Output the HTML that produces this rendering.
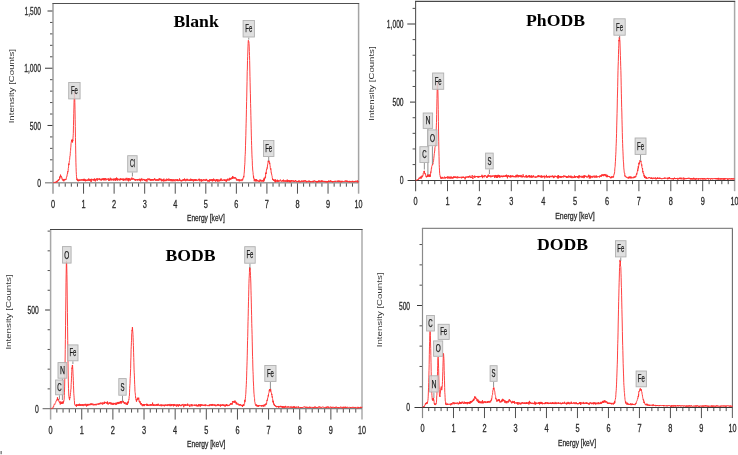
<!DOCTYPE html>
<html><head><meta charset="utf-8"><style>html,body{margin:0;padding:0;background:#fff}svg{display:block;will-change:transform}text{font-family:"Liberation Sans",sans-serif}.t{stroke:#2a2a2a;stroke-width:0.3px}.tb{stroke:#1a1a1a;stroke-width:0.25px}.t2{fill:#333}.ttl{font-family:"Liberation Serif",serif;font-weight:bold;font-size:17.7px}</style></head>
<body><svg width="738" height="455" viewBox="0 0 738 455">
<rect width="738" height="455" fill="#fff"/>
<rect x="0.4" y="451" width="1.6" height="3.2" fill="#8c8c8c"/>
<g><path d="M59.11 182.7v4M65.22 182.7v4M71.34 182.7v4M77.45 182.7v4M89.67 182.7v4M95.78 182.7v4M101.9 182.7v4M108.01 182.7v4M120.23 182.7v4M126.34 182.7v4M132.46 182.7v4M138.57 182.7v4M150.79 182.7v4M156.9 182.7v4M163.02 182.7v4M169.13 182.7v4M181.35 182.7v4M187.46 182.7v4M193.58 182.7v4M199.69 182.7v4M211.91 182.7v4M218.02 182.7v4M224.14 182.7v4M230.25 182.7v4M242.47 182.7v4M248.58 182.7v4M254.7 182.7v4M260.81 182.7v4M273.03 182.7v4M279.14 182.7v4M285.26 182.7v4M291.37 182.7v4M303.59 182.7v4M309.7 182.7v4M315.82 182.7v4M321.93 182.7v4M334.15 182.7v4M340.26 182.7v4M346.38 182.7v4M352.49 182.7v4" stroke="#505050" stroke-width="1" fill="none"/>
<path d="M83.56 182.7v11M114.12 182.7v11M144.68 182.7v11M175.24 182.7v11M205.8 182.7v11M236.36 182.7v11M266.92 182.7v11M297.48 182.7v11M328.04 182.7v11" stroke="#505050" stroke-width="1" fill="none"/>
<path d="M50 171.25h3M50 159.81h3M50 148.36h3M50 136.91h3M50 114.02h3M50 102.57h3M50 91.13h3M50 79.68h3M50 56.79h3M50 45.34h3M50 33.89h3M50 22.45h3" stroke="#505050" stroke-width="1" fill="none"/>
<path d="M47.5 125.47h5.5M45 68.23h8M47.5 11h5.5" stroke="#383838" stroke-width="1" fill="none"/>
<path d="M53 193.7V3.5" stroke="#9c9c9c" stroke-width="1.5" fill="none"/>
<path d="M358.6 193.7V3.5" stroke="#a4a4a4" stroke-width="1.5" fill="none"/>
<path d="M52.4 3.5H359.2" stroke="#505050" stroke-width="1.2" fill="none"/>
<path d="M45 182.7H358.6" stroke="#9a9a9a" stroke-width="1.4" fill="none"/>
<polyline points="53,182.7 53.15,182.65 53.31,182.67 53.46,182.7 53.61,182.65 53.76,182.7 53.92,182.52 54.07,182.27 54.22,182.56 54.38,182.57 54.53,182.31 54.68,182.31 54.83,182.33 54.99,182.5 55.14,182.17 55.29,181.85 55.44,182.42 55.6,182.04 55.75,182.5 55.9,182.2 56.06,182.35 56.21,181.6 56.36,181.97 56.51,181.18 56.67,181.14 56.82,181.21 56.97,182.3 57.13,181.21 57.28,180.85 57.43,180.66 57.58,181.49 57.74,180.86 57.89,181.11 58.04,180.97 58.2,179.8 58.35,180.83 58.5,180.25 58.65,179.52 58.81,180.28 58.96,179.74 59.11,179.3 59.26,179 59.42,179.57 59.57,178.2 59.72,176.81 59.88,178.53 60.03,176.34 60.18,176.52 60.33,176.81 60.49,174.65 60.64,175.49 60.79,176.99 60.95,176.18 61.1,176.05 61.25,176.93 61.4,176.65 61.56,177.59 61.71,177.44 61.86,177.24 62.02,179.14 62.17,178.78 62.32,179.53 62.47,179.32 62.63,180.41 62.78,180.11 62.93,179.94 63.08,179.28 63.24,179.18 63.39,180.83 63.54,180.51 63.7,179.59 63.85,181.31 64,180.32 64.15,180.09 64.31,179.21 64.46,179.57 64.61,180.22 64.77,180.22 64.92,180.11 65.07,178.9 65.22,180.13 65.38,179.96 65.53,179.4 65.68,179.58 65.84,179.45 65.99,179.89 66.14,178.8 66.29,178.77 66.45,177.18 66.6,177.08 66.75,177.03 66.9,175.88 67.06,175.93 67.21,174.11 67.36,174.07 67.52,172.73 67.67,173.22 67.82,171 67.97,171.58 68.13,170.85 68.28,168.52 68.43,167.99 68.59,166.18 68.74,163.57 68.89,165.03 69.04,163.9 69.2,162.24 69.35,160.96 69.5,160.4 69.66,159.24 69.81,157.21 69.96,155.96 70.11,155.74 70.27,153.33 70.42,151.52 70.57,150.68 70.72,147.77 70.88,146.99 71.03,143.73 71.18,142.89 71.34,141.68 71.49,141.25 71.64,140.1 71.79,141.38 71.95,140.53 72.1,139.41 72.25,142.03 72.41,139.84 72.56,142.47 72.71,140.21 72.86,140.95 73.02,137.92 73.17,135.79 73.32,133.36 73.48,125.56 73.63,119.12 73.78,113.75 73.93,107.12 74.09,100.88 74.24,97.09 74.39,92.32 74.54,94.1 74.7,96.31 74.85,102.4 75,109.68 75.16,119.27 75.31,126.57 75.46,137.66 75.61,145.86 75.77,154.81 75.92,162.22 76.07,167.39 76.23,171.75 76.38,174.37 76.53,176.79 76.68,178.16 76.84,179.88 76.99,180.01 77.14,178.65 77.3,180.4 77.45,180.74 77.6,179.91 77.75,179.26 77.91,181.07 78.06,180.29 78.21,180.55 78.36,181.26 78.52,179.68 78.67,180.16 78.82,180.09 78.98,180.61 79.13,179.84 79.28,180.46 79.43,180.21 79.59,180.82 79.74,180.88 79.89,179.25 80.05,180.42 80.2,179.91 80.35,180.11 80.5,180.37 80.66,180.4 80.81,179.67 80.96,180.26 81.12,180.16 81.27,180.04 81.42,179.3 81.57,179.61 81.73,179.8 81.88,180.4 82.03,180.93 82.18,179.42 82.34,179.4 82.49,180.11 82.64,179.66 82.8,179.5 82.95,179.47 83.1,179.4 83.25,180.29 83.41,179.01 83.56,180.8 83.71,179.42 83.87,179.65 84.02,179.4 84.17,178.74 84.32,178.99 84.48,180.71 84.63,181.06 84.78,179.41 84.94,180.61 85.09,179.94 85.24,179.38 85.39,181.01 85.55,181.31 85.7,179.75 85.85,179.88 86,180.07 86.16,179.88 86.31,180.47 86.46,180.89 86.62,180 86.77,180.53 86.92,180.97 87.07,179.54 87.23,179.91 87.38,179.59 87.53,180.52 87.69,180.29 87.84,180.52 87.99,180.44 88.14,179.71 88.3,180.36 88.45,179.59 88.6,179.6 88.76,178.46 88.91,180.75 89.06,179.21 89.21,179.86 89.37,179.81 89.52,180.77 89.67,180.1 89.82,179.28 89.98,179.84 90.13,179.72 90.28,179.97 90.44,178.98 90.59,179.77 90.74,181.25 90.89,180.22 91.05,181.08 91.2,181.95 91.35,180.1 91.51,178.82 91.66,179.69 91.81,180.52 91.96,180.36 92.12,178.94 92.27,179.6 92.42,179.67 92.58,179.73 92.73,179.66 92.88,179.13 93.03,179.3 93.19,179.53 93.34,180.39 93.49,179.31 93.64,180.13 93.8,178.9 93.95,180.53 94.1,179.74 94.26,179.65 94.41,180.55 94.56,178.44 94.71,178.61 94.87,179.94 95.02,179.08 95.17,179.35 95.33,181.43 95.48,179.43 95.63,179.64 95.78,179.54 95.94,180.34 96.09,179.77 96.24,179.7 96.4,178.74 96.55,179.33 96.7,179.57 96.85,178.49 97.01,179.94 97.16,179.82 97.31,180.82 97.46,178.44 97.62,178.86 97.77,178.88 97.92,179.05 98.08,179.44 98.23,179.36 98.38,179.69 98.53,179.65 98.69,179.46 98.84,178.42 98.99,179.1 99.15,179.53 99.3,179.9 99.45,179.94 99.6,178.35 99.76,179.13 99.91,179.44 100.06,179.73 100.22,180.27 100.37,179.53 100.52,178.86 100.67,179.76 100.83,179.64 100.98,179.64 101.13,179.4 101.28,180.61 101.44,179.64 101.59,180.08 101.74,178.84 101.9,180.02 102.05,179.06 102.2,178.39 102.35,179.69 102.51,179.9 102.66,179.33 102.81,179.47 102.97,180.17 103.12,179.13 103.27,178.03 103.42,179.64 103.58,179.6 103.73,180.2 103.88,179.23 104.04,180.34 104.19,180.24 104.34,178.54 104.49,180.1 104.65,178.68 104.8,178.36 104.95,179.26 105.1,179.05 105.26,178.05 105.41,179.59 105.56,179.87 105.72,180.41 105.87,179.41 106.02,178.38 106.17,178.75 106.33,180.11 106.48,180.05 106.63,179.8 106.79,179.23 106.94,179.58 107.09,179.28 107.24,179.22 107.4,179.64 107.55,179.46 107.7,179.28 107.86,179.49 108.01,179.07 108.16,178.09 108.31,179 108.47,179.38 108.62,180.63 108.77,179.14 108.92,180.81 109.08,180.43 109.23,178.8 109.38,178.91 109.54,179.52 109.69,180.64 109.84,179.68 109.99,179.9 110.15,178.95 110.3,177.79 110.45,179.25 110.61,179.97 110.76,180.25 110.91,179.44 111.06,179.53 111.22,180.23 111.37,179.32 111.52,180.23 111.68,178.6 111.83,178.63 111.98,178.62 112.13,179.74 112.29,179.02 112.44,179.49 112.59,179.67 112.74,179.63 112.9,180.33 113.05,180.43 113.2,178.82 113.36,179.52 113.51,179.23 113.66,178.66 113.81,180.63 113.97,179.95 114.12,179.25 114.27,179.1 114.43,179.65 114.58,178.63 114.73,179.22 114.88,180.25 115.04,180.05 115.19,178.79 115.34,179.04 115.5,180.74 115.65,178.4 115.8,178.94 115.95,178.4 116.11,179.64 116.26,179.58 116.41,180.18 116.56,177.53 116.72,179.49 116.87,178.21 117.02,179.83 117.18,179.24 117.33,180.57 117.48,179.63 117.63,178.64 117.79,180.26 117.94,178.58 118.09,179.11 118.25,180.11 118.4,179.71 118.55,179.68 118.7,179.38 118.86,179.73 119.01,179.94 119.16,179.56 119.32,180.09 119.47,180.28 119.62,179.37 119.77,178.7 119.93,180.45 120.08,179.33 120.23,179.81 120.38,180.04 120.54,178.71 120.69,179.71 120.84,178.24 121,179.9 121.15,179.05 121.3,179.49 121.45,179.87 121.61,178.9 121.76,179.44 121.91,178.88 122.07,179.36 122.22,180.11 122.37,179.39 122.52,179.28 122.68,178.62 122.83,179.98 122.98,179.34 123.14,180.57 123.29,178.84 123.44,180.1 123.59,180.63 123.75,179.35 123.9,178.5 124.05,180.42 124.2,180.1 124.36,179.85 124.51,180.13 124.66,179.02 124.82,179.89 124.97,179.83 125.12,178.87 125.27,179.85 125.43,178.98 125.58,180 125.73,180.18 125.89,180.63 126.04,177.93 126.19,179.52 126.34,179.11 126.5,179.31 126.65,179.17 126.8,179.25 126.96,177.89 127.11,180.04 127.26,180.42 127.41,180.02 127.57,180.26 127.72,178.73 127.87,178.68 128.02,179.98 128.18,180.29 128.33,179.53 128.48,178.25 128.64,181.34 128.79,178.88 128.94,180.06 129.09,178.5 129.25,180.05 129.4,179.46 129.55,180.36 129.71,179.97 129.86,178.23 130.01,178.64 130.16,179.53 130.32,179.87 130.47,180.6 130.62,179.48 130.78,179.19 130.93,179.21 131.08,179.18 131.23,179.9 131.39,179.09 131.54,179.02 131.69,178 131.84,177.53 132,178.96 132.15,179.38 132.3,178.83 132.46,179.19 132.61,179.26 132.76,178.74 132.91,179.46 133.07,178.24 133.22,178.78 133.37,178.53 133.53,178.88 133.68,179.32 133.83,179.52 133.98,179.05 134.14,179.33 134.29,178.81 134.44,179.04 134.6,180.09 134.75,179.09 134.9,180.17 135.05,179.68 135.21,179.49 135.36,180.82 135.51,179.27 135.66,179.26 135.82,179.51 135.97,179.72 136.12,179.7 136.28,180.14 136.43,179.65 136.58,179.86 136.73,179.41 136.89,180.34 137.04,179.32 137.19,179.39 137.35,179.6 137.5,179.82 137.65,179.12 137.8,180.69 137.96,179.2 138.11,179.36 138.26,179.33 138.42,179.27 138.57,180 138.72,179.73 138.87,179.1 139.03,179.25 139.18,179.41 139.33,180.62 139.48,179.19 139.64,178.75 139.79,178.87 139.94,179.42 140.1,180.67 140.25,178.93 140.4,179.7 140.55,181.36 140.71,179.34 140.86,180.65 141.01,180.51 141.17,180.06 141.32,178.74 141.47,179.88 141.62,179.44 141.78,178.43 141.93,178.54 142.08,179.72 142.24,179.82 142.39,180.53 142.54,180.14 142.69,179.37 142.85,179.4 143,179.6 143.15,178.99 143.3,180.21 143.46,179.73 143.61,179.19 143.76,179.3 143.92,178.97 144.07,179.43 144.22,179.92 144.37,179.47 144.53,180.4 144.68,180.84 144.83,179.33 144.99,179.76 145.14,179.52 145.29,180.89 145.44,179.98 145.6,180.14 145.75,180.32 145.9,181.27 146.06,179.97 146.21,179.13 146.36,179.48 146.51,180.15 146.67,179.76 146.82,179.23 146.97,181.62 147.12,179.84 147.28,179.38 147.43,179.29 147.58,178.6 147.74,178.99 147.89,179.55 148.04,179.56 148.19,179.23 148.35,180.13 148.5,179.79 148.65,179.16 148.81,178.45 148.96,179.88 149.11,179.81 149.26,179.64 149.42,178.87 149.57,179.8 149.72,178.79 149.88,180.44 150.03,179.91 150.18,179.92 150.33,179.26 150.49,179.08 150.64,180.81 150.79,180.41 150.94,179.57 151.1,180.24 151.25,180.82 151.4,179.1 151.56,179.47 151.71,179.47 151.86,180.12 152.01,179.11 152.17,179.97 152.32,179.07 152.47,180.42 152.63,180.39 152.78,179.68 152.93,180.29 153.08,179.37 153.24,179.65 153.39,180.44 153.54,179.77 153.7,180.06 153.85,179.21 154,180.25 154.15,180.12 154.31,179.02 154.46,178.34 154.61,178.5 154.76,179.79 154.92,179.69 155.07,178.82 155.22,179.93 155.38,180.5 155.53,179.77 155.68,179.55 155.83,180.4 155.99,180.95 156.14,180.81 156.29,179.41 156.45,180.36 156.6,179.95 156.75,179.72 156.9,179.45 157.06,180.09 157.21,179.53 157.36,180.46 157.52,180.11 157.67,180.55 157.82,179.12 157.97,179.89 158.13,180.37 158.28,180.11 158.43,180.03 158.58,179.42 158.74,180.94 158.89,180.57 159.04,180.14 159.2,178.21 159.35,179.26 159.5,179.96 159.65,179.42 159.81,178.53 159.96,180.05 160.11,180.14 160.27,179.1 160.42,179.57 160.57,179.46 160.72,180.24 160.88,178.63 161.03,178.78 161.18,179.54 161.34,179.46 161.49,181.25 161.64,179.49 161.79,180.04 161.95,179.63 162.1,179.47 162.25,180.15 162.4,181.04 162.56,179.68 162.71,180.41 162.86,180.15 163.02,180.33 163.17,180.16 163.32,181.45 163.47,179.14 163.63,179.77 163.78,179.21 163.93,178.64 164.09,179.93 164.24,181.13 164.39,180.53 164.54,180.74 164.7,180.28 164.85,179.9 165,181.26 165.16,179.73 165.31,180.94 165.46,179.76 165.61,180.03 165.77,180.17 165.92,180.01 166.07,180.32 166.22,180.37 166.38,181.07 166.53,179.99 166.68,178.77 166.84,178.68 166.99,179.11 167.14,179.52 167.29,180.42 167.45,179.04 167.6,180.02 167.75,180.03 167.91,180.17 168.06,179.93 168.21,180.27 168.36,180.04 168.52,180.7 168.67,180.24 168.82,178.51 168.98,180.04 169.13,180.15 169.28,179.65 169.43,179.54 169.59,180.73 169.74,180.14 169.89,179.41 170.04,179.83 170.2,179.93 170.35,179.01 170.5,180.45 170.66,179.96 170.81,180.35 170.96,179.06 171.11,181.28 171.27,180.46 171.42,180.37 171.57,179.6 171.73,179.64 171.88,179.13 172.03,181.05 172.18,179.55 172.34,180.22 172.49,180.47 172.64,179.69 172.8,180.63 172.95,181.38 173.1,180.28 173.25,181.01 173.41,180.46 173.56,179.81 173.71,179.85 173.86,179.03 174.02,180.18 174.17,181.04 174.32,180.54 174.48,180.65 174.63,180.84 174.78,179.78 174.93,180.48 175.09,181.33 175.24,179.62 175.39,180.14 175.55,179.84 175.7,180 175.85,179.66 176,180.05 176.16,179.28 176.31,179.8 176.46,179.82 176.62,179.81 176.77,181.01 176.92,180.18 177.07,180.24 177.23,179.94 177.38,180.94 177.53,179.03 177.68,180.01 177.84,180.85 177.99,181.17 178.14,180.26 178.3,180.14 178.45,180.54 178.6,180.02 178.75,180.49 178.91,179.73 179.06,180.54 179.21,180.11 179.37,179.46 179.52,178.44 179.67,180.73 179.82,180.38 179.98,180.62 180.13,179.58 180.28,180.82 180.44,180.4 180.59,180.11 180.74,180.71 180.89,180.7 181.05,180.39 181.2,181.43 181.35,181.01 181.5,180.35 181.66,180 181.81,180.21 181.96,181.22 182.12,180.39 182.27,179.58 182.42,179.74 182.57,180.14 182.73,180.66 182.88,179.69 183.03,180.47 183.19,180.84 183.34,180.61 183.49,179.18 183.64,179.96 183.8,179.36 183.95,180.41 184.1,179.5 184.26,180.48 184.41,180.2 184.56,178.52 184.71,179.61 184.87,180.42 185.02,180.16 185.17,179.9 185.32,179.33 185.48,180.42 185.63,181.21 185.78,180.28 185.94,180.1 186.09,180.04 186.24,179.27 186.39,179.91 186.55,179.59 186.7,180.81 186.85,179.56 187.01,178.78 187.16,179.62 187.31,179.95 187.46,180.02 187.62,178.98 187.77,180.7 187.92,180.19 188.08,179.82 188.23,179.64 188.38,180.39 188.53,179.92 188.69,180.29 188.84,180.04 188.99,180.2 189.14,180.84 189.3,180.13 189.45,179.56 189.6,180.73 189.76,180.27 189.91,179.7 190.06,180.8 190.21,180.01 190.37,180.8 190.52,179.41 190.67,178.66 190.83,178.84 190.98,180.27 191.13,179.66 191.28,180.05 191.44,180.06 191.59,179.15 191.74,180.96 191.9,179.46 192.05,180.16 192.2,179.24 192.35,180.01 192.51,180.56 192.66,179.96 192.81,179.67 192.96,180.11 193.12,179.83 193.27,180.46 193.42,181.49 193.58,179.57 193.73,179.69 193.88,180.04 194.03,180.09 194.19,179.48 194.34,180.43 194.49,180.59 194.65,180.26 194.8,179.39 194.95,181.02 195.1,179.39 195.26,180.55 195.41,180.84 195.56,179.35 195.72,180.21 195.87,180.97 196.02,180.37 196.17,179.56 196.33,179.39 196.48,180.42 196.63,179.89 196.78,179.7 196.94,180.56 197.09,179.93 197.24,180.17 197.4,180.49 197.55,180.46 197.7,180.11 197.85,180.13 198.01,180.51 198.16,180.42 198.31,179.45 198.47,180.02 198.62,179.6 198.77,179.4 198.92,179.79 199.08,178.73 199.23,180.68 199.38,179.65 199.54,180.36 199.69,178.99 199.84,179.09 199.99,181.39 200.15,180.77 200.3,179.74 200.45,179.66 200.6,179.7 200.76,180.21 200.91,179.88 201.06,179.75 201.22,180.21 201.37,179.52 201.52,181.59 201.67,179.77 201.83,180.82 201.98,179.56 202.13,180.31 202.29,180.73 202.44,179.93 202.59,180.74 202.74,180.74 202.9,181.16 203.05,180.19 203.2,179.86 203.36,179.53 203.51,180.26 203.66,179.52 203.81,180.16 203.97,180.23 204.12,179.82 204.27,179.51 204.42,180.39 204.58,180.33 204.73,180.28 204.88,180.13 205.04,180.74 205.19,179.53 205.34,180.43 205.49,179.89 205.65,180.7 205.8,179.96 205.95,179.94 206.11,180.45 206.26,178.92 206.41,179.95 206.56,179.07 206.72,179.58 206.87,180.6 207.02,180.42 207.18,179.91 207.33,180.14 207.48,180.15 207.63,180.36 207.79,181.32 207.94,180.32 208.09,181.57 208.24,179.95 208.4,180.64 208.55,180.63 208.7,180.32 208.86,180.01 209.01,181.08 209.16,181.28 209.31,180.85 209.47,181.46 209.62,180.79 209.77,179.18 209.93,180.84 210.08,179.77 210.23,181.04 210.38,179.99 210.54,180.38 210.69,180.22 210.84,179.83 211,179.08 211.15,180.06 211.3,180.1 211.45,180.79 211.61,179.82 211.76,180.34 211.91,179.66 212.06,180.21 212.22,179.09 212.37,181.42 212.52,180.37 212.68,179.63 212.83,180.4 212.98,180.68 213.13,180.35 213.29,181.05 213.44,180.11 213.59,178.65 213.75,179.46 213.9,180.88 214.05,180.73 214.2,180.44 214.36,179.55 214.51,180.7 214.66,180.61 214.82,179.63 214.97,179.64 215.12,180.42 215.27,180.88 215.43,181.15 215.58,180.62 215.73,181.58 215.88,179.71 216.04,180.58 216.19,179.88 216.34,179.01 216.5,179.45 216.65,180.9 216.8,179.64 216.95,179.46 217.11,180.65 217.26,180.78 217.41,180.25 217.57,181.19 217.72,179.26 217.87,181.69 218.02,180.88 218.18,180.35 218.33,180.32 218.48,180.08 218.64,180.01 218.79,180.32 218.94,179.47 219.09,181.52 219.25,180.18 219.4,180.63 219.55,180.1 219.7,180.04 219.86,180.75 220.01,180.58 220.16,179.69 220.32,179.96 220.47,180.61 220.62,178.9 220.77,178.73 220.93,181.1 221.08,179.99 221.23,178.61 221.39,179.69 221.54,180.05 221.69,180.32 221.84,180.53 222,180.32 222.15,180.53 222.3,179.72 222.46,180.44 222.61,180.47 222.76,180.95 222.91,180.23 223.07,180.76 223.22,180.31 223.37,179.55 223.52,179.97 223.68,179.89 223.83,179.98 223.98,180.17 224.14,180.28 224.29,180.4 224.44,179.73 224.59,180.88 224.75,179.37 224.9,180.19 225.05,180.68 225.21,180.51 225.36,180.63 225.51,180.11 225.66,180.66 225.82,179.5 225.97,180.7 226.12,181.62 226.28,180.66 226.43,181.46 226.58,180.22 226.73,179.53 226.89,179.78 227.04,181.02 227.19,180.65 227.34,179.04 227.5,179.95 227.65,180.13 227.8,179.44 227.96,178.53 228.11,179.24 228.26,179.95 228.41,179.77 228.57,179.56 228.72,180.32 228.87,180.57 229.03,179.77 229.18,180.39 229.33,179.71 229.48,179.53 229.64,177.85 229.79,180.03 229.94,179.4 230.1,179.33 230.25,178.77 230.4,178.21 230.55,179.21 230.71,179.32 230.86,179.8 231.01,179.13 231.16,177.92 231.32,178.14 231.47,178.79 231.62,178.18 231.78,177.76 231.93,177.28 232.08,177.98 232.23,177.62 232.39,178.69 232.54,178.11 232.69,175.99 232.85,178.76 233,177.35 233.15,176.91 233.3,177.35 233.46,177.68 233.61,177.15 233.76,177.15 233.92,177.26 234.07,178.66 234.22,177.47 234.37,178.09 234.53,177.97 234.68,177.51 234.83,177.33 234.98,177.27 235.14,178.43 235.29,177.52 235.44,177.48 235.6,177.65 235.75,177.6 235.9,178.87 236.05,179.02 236.21,178.41 236.36,180.14 236.51,179.1 236.67,179.75 236.82,179.73 236.97,180.79 237.12,180.27 237.28,179.75 237.43,179.22 237.58,179.22 237.74,179.99 237.89,180.12 238.04,180.58 238.19,179.83 238.35,180.28 238.5,179.78 238.65,179.09 238.8,180.24 238.96,181.17 239.11,180.79 239.26,181.17 239.42,181.02 239.57,179.5 239.72,180.17 239.87,181.24 240.03,179.93 240.18,179.57 240.33,180.55 240.49,180.75 240.64,180.54 240.79,180.17 240.94,179.95 241.1,179.61 241.25,179.58 241.4,179.58 241.56,179.45 241.71,179.84 241.86,181.16 242.01,180.23 242.17,179.88 242.32,180.23 242.47,179.24 242.62,179.92 242.78,180.12 242.93,178.13 243.08,178.35 243.24,178.25 243.39,177.18 243.54,176.42 243.69,176.15 243.85,177.27 244,174.76 244.15,173.2 244.31,171.96 244.46,169.11 244.61,166.08 244.76,164.8 244.92,162.37 245.07,156.43 245.22,154.69 245.38,151.16 245.53,145.27 245.68,140.03 245.83,135.56 245.99,128.3 246.14,123.27 246.29,117.16 246.44,109.27 246.6,101.67 246.75,96.09 246.9,87.98 247.06,81.48 247.21,71.36 247.36,69.02 247.51,60.52 247.67,56.79 247.82,52.06 247.97,46.92 248.13,43.43 248.28,40.56 248.43,40.32 248.58,41.03 248.74,41.44 248.89,41.54 249.04,43.84 249.2,46.08 249.35,51.41 249.5,55.45 249.65,60.39 249.81,68.03 249.96,76.37 250.11,82.75 250.26,89.97 250.42,93.76 250.57,103.42 250.72,108.27 250.88,115.74 251.03,121.23 251.18,128.18 251.33,135.1 251.49,140.67 251.64,145.49 251.79,150.06 251.95,154.86 252.1,158.22 252.25,160.27 252.4,165.88 252.56,166.93 252.71,170.09 252.86,171.19 253.02,172.35 253.17,174.43 253.32,174.99 253.47,177.73 253.63,176.54 253.78,178.47 253.93,178.11 254.08,178.87 254.24,181.23 254.39,180.16 254.54,179.71 254.7,179.03 254.85,179.98 255,180.11 255.15,181.2 255.31,179.56 255.46,179.39 255.61,180.48 255.77,180.65 255.92,181.48 256.07,180.05 256.22,179.01 256.38,180.17 256.53,179.86 256.68,180.28 256.84,181.16 256.99,179.84 257.14,181.31 257.29,180.73 257.45,180.45 257.6,180.11 257.75,180.38 257.9,180.4 258.06,181.05 258.21,181.36 258.36,180.59 258.52,181.03 258.67,181.37 258.82,181.35 258.97,180.91 259.13,181.69 259.28,181.4 259.43,181.57 259.59,180.54 259.74,180.42 259.89,179.51 260.04,181.5 260.2,181.04 260.35,180.14 260.5,180.78 260.66,180.84 260.81,179.7 260.96,180.85 261.11,181.31 261.27,181.4 261.42,180.47 261.57,180.48 261.72,181.43 261.88,181.2 262.03,180.34 262.18,180.3 262.34,180.98 262.49,180.24 262.64,180.24 262.79,181.57 262.95,180.68 263.1,180.2 263.25,180.73 263.41,181.61 263.56,180.39 263.71,179.62 263.86,178.93 264.02,181.27 264.17,177.79 264.32,180.19 264.48,178.41 264.63,177.9 264.78,177.74 264.93,177.95 265.09,178.48 265.24,176.65 265.39,177.1 265.54,177.84 265.7,173.17 265.85,174.04 266,172.43 266.16,173.68 266.31,171.01 266.46,170.02 266.61,169.13 266.77,169.41 266.92,169.39 267.07,167.66 267.23,168.33 267.38,167.07 267.53,164.82 267.68,164.9 267.84,163.55 267.99,162.89 268.14,160.73 268.3,160.82 268.45,161.6 268.6,160.41 268.75,161.95 268.91,161.66 269.06,160.84 269.21,162.88 269.36,162.52 269.52,163.88 269.67,163.35 269.82,162.85 269.98,165.52 270.13,165.59 270.28,167.36 270.43,168.47 270.59,169.47 270.74,168.33 270.89,168.57 271.05,170.94 271.2,172.75 271.35,172.53 271.5,174.14 271.66,174.06 271.81,175.16 271.96,175.84 272.12,176.21 272.27,177.65 272.42,178.03 272.57,179.45 272.73,178.91 272.88,179.98 273.03,179.35 273.18,180.19 273.34,179.67 273.49,179.64 273.64,181.01 273.8,180.75 273.95,180.94 274.1,180.03 274.25,179.56 274.41,180.13 274.56,180.87 274.71,179.9 274.87,181.59 275.02,179.97 275.17,181.16 275.32,182.33 275.48,179.42 275.63,180.01 275.78,181.41 275.94,180.78 276.09,180.99 276.24,180.83 276.39,181.68 276.55,181.25 276.7,180.65 276.85,180.78 277,180.27 277.16,180.86 277.31,179.67 277.46,181.29 277.62,180.78 277.77,181.92 277.92,181.58 278.07,180.22 278.23,181.42 278.38,180.65 278.53,180.96 278.69,181.48 278.84,181.11 278.99,181.2 279.14,181.19 279.3,180.55 279.45,180.6 279.6,181.25 279.76,181.42 279.91,180.8 280.06,181 280.21,180.42 280.37,179.57 280.52,180.52 280.67,180.98 280.82,181.05 280.98,181.41 281.13,181.44 281.28,181.49 281.44,181.18 281.59,181.19 281.74,180.59 281.89,181.18 282.05,181.08 282.2,181.61 282.35,180.14 282.51,180.73 282.66,180.07 282.81,180.58 282.96,180.23 283.12,181.12 283.27,180.63 283.42,179.61 283.58,181.63 283.73,180.4 283.88,180.14 284.03,180.79 284.19,180.62 284.34,180.36 284.49,181.36 284.64,180.81 284.8,181.47 284.95,181.38 285.1,181.35 285.26,181.1 285.41,180.95 285.56,180.8 285.71,181.77 285.87,180.01 286.02,180.44 286.17,180.67 286.33,181.23 286.48,181.09 286.63,180.77 286.78,180.84 286.94,181.92 287.09,180.67 287.24,179.55 287.4,182.02 287.55,180.55 287.7,180.87 287.85,181.13 288.01,180.36 288.16,181.68 288.31,180.99 288.46,180.32 288.62,181.18 288.77,181.3 288.92,181.02 289.08,181.31 289.23,180.29 289.38,181.56 289.53,180.65 289.69,181.74 289.84,180.75 289.99,181.15 290.15,182.42 290.3,181.11 290.45,181.65 290.6,181.34 290.76,180.33 290.91,181.68 291.06,181.66 291.22,180.39 291.37,181.06 291.52,180.34 291.67,180.96 291.83,181.57 291.98,181.16 292.13,180.51 292.28,180.66 292.44,181.14 292.59,181.11 292.74,181.2 292.9,181.44 293.05,180.17 293.2,181.14 293.35,181.72 293.51,181.39 293.66,180.79 293.81,180.83 293.97,181.23 294.12,181.5 294.27,181.15 294.42,182 294.58,181.82 294.73,180.77 294.88,181.41 295.04,180.99 295.19,180.57 295.34,180.86 295.49,181.17 295.65,180.12 295.8,180.85 295.95,181.37 296.1,180.83 296.26,180.99 296.41,181.62 296.56,181.16 296.72,181.28 296.87,182.18 297.02,181.29 297.17,181.35 297.33,181.43 297.48,182.02 297.63,181.39 297.79,181.23 297.94,181.17 298.09,181.78 298.24,180.91 298.4,181.82 298.55,181.33 298.7,180.58 298.86,181.56 299.01,181.47 299.16,180.7 299.31,181.41 299.47,181.37 299.62,181.12 299.77,180.71 299.92,182.31 300.08,181.64 300.23,181.73 300.38,181.76 300.54,181.65 300.69,181.65 300.84,181.09 300.99,181.67 301.15,181.18 301.3,181.05 301.45,181.6 301.61,181.18 301.76,180.45 301.91,181.09 302.06,181.56 302.22,181.28 302.37,181.69 302.52,181.12 302.68,180.83 302.83,181.65 302.98,181.35 303.13,180.72 303.29,181.5 303.44,181.17 303.59,181.75 303.74,181.65 303.9,181.51 304.05,180.23 304.2,181.46 304.36,181.51 304.51,181.53 304.66,181.34 304.81,180.96 304.97,181.18 305.12,180.3 305.27,181.17 305.43,180.59 305.58,181.14 305.73,180.99 305.88,181.95 306.04,181.34 306.19,181.31 306.34,181.39 306.5,182.29 306.65,180.87 306.8,181.46 306.95,181.49 307.11,181.4 307.26,181.39 307.41,181.1 307.56,181.88 307.72,181.72 307.87,181.15 308.02,181.22 308.18,181.47 308.33,181.56 308.48,181.68 308.63,181.32 308.79,180.75 308.94,181.79 309.09,180.59 309.25,180.91 309.4,181.51 309.55,180.94 309.7,181.98 309.86,182.11 310.01,181.9 310.16,181.5 310.32,181.46 310.47,181.55 310.62,181.26 310.77,182.3 310.93,181.08 311.08,181.97 311.23,181.62 311.38,181.51 311.54,181.85 311.69,181.95 311.84,181.78 312,181.33 312.15,181.05 312.3,181.06 312.45,181.78 312.61,181.69 312.76,181.75 312.91,181.12 313.07,182.27 313.22,180.76 313.37,181.55 313.52,181.69 313.68,181.18 313.83,180.86 313.98,181.18 314.14,180.85 314.29,181.28 314.44,180.77 314.59,180.77 314.75,181.39 314.9,180.68 315.05,181.27 315.2,181.3 315.36,181.77 315.51,181.48 315.66,180.99 315.82,181.95 315.97,181.05 316.12,181.19 316.27,181.23 316.43,182.36 316.58,181.4 316.73,181.06 316.89,181.7 317.04,181.32 317.19,182.44 317.34,181.06 317.5,181.66 317.65,180.97 317.8,182.2 317.96,181.05 318.11,181.47 318.26,181 318.41,181.79 318.57,181.65 318.72,180.35 318.87,181.75 319.02,181.69 319.18,181.5 319.33,181.84 319.48,180.84 319.64,180.6 319.79,181.7 319.94,182.16 320.09,180.85 320.25,180.88 320.4,181.01 320.55,180.86 320.71,181.78 320.86,181.46 321.01,182.01 321.16,182.03 321.32,180.95 321.47,181.69 321.62,180.37 321.78,181.36 321.93,181.68 322.08,181.04 322.23,180.59 322.39,181.18 322.54,181.95 322.69,181.23 322.84,180.79 323,181.62 323.15,181.75 323.3,180.95 323.46,181.34 323.61,181.9 323.76,181.58 323.91,181.75 324.07,181.28 324.22,181.36 324.37,180.9 324.53,181.1 324.68,182.11 324.83,181.24 324.98,181.02 325.14,181.22 325.29,180.96 325.44,181.67 325.6,181.84 325.75,181.01 325.9,181.9 326.05,182.38 326.21,180.97 326.36,181.75 326.51,181.57 326.66,182.05 326.82,182.02 326.97,181.94 327.12,181.59 327.28,181.27 327.43,182.45 327.58,181.11 327.73,181.96 327.89,181.91 328.04,181.14 328.19,181.47 328.35,182.12 328.5,180.63 328.65,181.82 328.8,181.33 328.96,181.36 329.11,180.82 329.26,181.65 329.42,181 329.57,181.77 329.72,180.95 329.87,181.78 330.03,181.61 330.18,180.62 330.33,181.31 330.48,181.4 330.64,180.47 330.79,181.29 330.94,181.81 331.1,181.13 331.25,181.97 331.4,180.96 331.55,180.92 331.71,181.71 331.86,181.73 332.01,181.38 332.17,181.45 332.32,181.89 332.47,181.21 332.62,182.35 332.78,181.65 332.93,181.64 333.08,181.58 333.24,181.33 333.39,182 333.54,181.2 333.69,181.54 333.85,181.75 334,182.06 334.15,181.98 334.3,181.31 334.46,181.89 334.61,181.44 334.76,181 334.92,181.02 335.07,180.79 335.22,181.6 335.37,181.94 335.53,181.02 335.68,181.33 335.83,180.98 335.99,181.47 336.14,180.95 336.29,181.1 336.44,181.16 336.6,181.25 336.75,181.3 336.9,181.37 337.06,181.38 337.21,181.04 337.36,181.7 337.51,180.72 337.67,181.52 337.82,181.05 337.97,181.52 338.12,181.59 338.28,180.6 338.43,181.61 338.58,182.03 338.74,181.79 338.89,181.62 339.04,180.55 339.19,181.39 339.35,181.08 339.5,181.92 339.65,181.33 339.81,181.19 339.96,180.71 340.11,181.79 340.26,181.23 340.42,181.36 340.57,181.93 340.72,181.5 340.88,181.6 341.03,182.49 341.18,181.23 341.33,181.26 341.49,181.68 341.64,182.07 341.79,180.85 341.94,181.38 342.1,181.05 342.25,180.89 342.4,181.72 342.56,181.14 342.71,181.6 342.86,181.52 343.01,181.53 343.17,181.5 343.32,181.02 343.47,181.45 343.63,181.57 343.78,181.62 343.93,181.35 344.08,181.89 344.24,181.72 344.39,181.52 344.54,181.75 344.7,181.55 344.85,181.77 345,180.64 345.15,180.93 345.31,181.31 345.46,181.53 345.61,180.57 345.76,181.37 345.92,181.55 346.07,181.38 346.22,181.38 346.38,180.9 346.53,181.52 346.68,180.61 346.83,181.89 346.99,181.21 347.14,181.94 347.29,180.74 347.45,181.66 347.6,181.54 347.75,181.12 347.9,180.98 348.06,181.99 348.21,181.66 348.36,182.11 348.52,181.46 348.67,181.56 348.82,181.67 348.97,181.81 349.13,181.68 349.28,181.84 349.43,181.3 349.58,180.88 349.74,182.35 349.89,181.57 350.04,181.7 350.2,181.31 350.35,181.93 350.5,181.59 350.65,181.97 350.81,181.23 350.96,181.48 351.11,181.6 351.27,181.37 351.42,181.63 351.57,182.19 351.72,181.28 351.88,181.41 352.03,181.6 352.18,181.11 352.34,181.01 352.49,182 352.64,181.86 352.79,180.88 352.95,180.93 353.1,181.85 353.25,182.04 353.4,181.81 353.56,181.75 353.71,182.21 353.86,181.52 354.02,182.08 354.17,182.05 354.32,181.15 354.47,181.83 354.63,181.57 354.78,181.27 354.93,181.2 355.09,181.68 355.24,181.52 355.39,181.89 355.54,180.81 355.7,181.27 355.85,182.01 356,181.54 356.16,181.25 356.31,181.34 356.46,180.78 356.61,180.97 356.77,181.78 356.92,181.59 357.07,182.09 357.22,181.45 357.38,181.49 357.53,180.41 357.68,181.51 357.84,182.43 357.99,181.84 358.14,181.51 358.29,182.08 358.45,181.92 358.6,181.71" fill="none" stroke="#ff2d2d" stroke-width="0.9" stroke-linejoin="round"/>
<path d="M132.4 172.5V176.5" stroke="#909090" stroke-width="1" fill="none"/>
<path d="M248.75 37.5V39.6" stroke="#909090" stroke-width="1" fill="none"/>
<path d="M268.7 157V161" stroke="#909090" stroke-width="1" fill="none"/>
<rect x="68.7" y="82.5" width="11.4" height="16.4" fill="#d9d9d9" fill-opacity="0.85" stroke="#b0b0b0" stroke-width="0.9"/>
<text x="70.9" y="94.2" class="tb" font-size="10.1" textLength="7.0" lengthAdjust="spacingAndGlyphs" fill="#1a1a1a">Fe</text>
<rect x="127.7" y="155.7" width="9.4" height="16.3" fill="#d9d9d9" fill-opacity="0.85" stroke="#b0b0b0" stroke-width="0.9"/>
<text x="129.9" y="167.35" class="tb" font-size="10.1" textLength="5.0" lengthAdjust="spacingAndGlyphs" fill="#1a1a1a">Cl</text>
<rect x="243.1" y="20.5" width="11.3" height="16.5" fill="#d9d9d9" fill-opacity="0.85" stroke="#b0b0b0" stroke-width="0.9"/>
<text x="245.25" y="32.25" class="tb" font-size="10.1" textLength="7.0" lengthAdjust="spacingAndGlyphs" fill="#1a1a1a">Fe</text>
<rect x="263.5" y="140.5" width="10.4" height="16" fill="#d9d9d9" fill-opacity="0.85" stroke="#b0b0b0" stroke-width="0.9"/>
<text x="265.2" y="152" class="tb" font-size="10.1" textLength="7.0" lengthAdjust="spacingAndGlyphs" fill="#1a1a1a">Fe</text>
<text x="50.95" y="207.9" class="t" font-size="10.2" textLength="4.1" lengthAdjust="spacingAndGlyphs" fill="#2a2a2a">0</text>
<text x="81.51" y="207.9" class="t" font-size="10.2" textLength="4.1" lengthAdjust="spacingAndGlyphs" fill="#2a2a2a">1</text>
<text x="112.07" y="207.9" class="t" font-size="10.2" textLength="4.1" lengthAdjust="spacingAndGlyphs" fill="#2a2a2a">2</text>
<text x="142.63" y="207.9" class="t" font-size="10.2" textLength="4.1" lengthAdjust="spacingAndGlyphs" fill="#2a2a2a">3</text>
<text x="173.19" y="207.9" class="t" font-size="10.2" textLength="4.1" lengthAdjust="spacingAndGlyphs" fill="#2a2a2a">4</text>
<text x="203.75" y="207.9" class="t" font-size="10.2" textLength="4.1" lengthAdjust="spacingAndGlyphs" fill="#2a2a2a">5</text>
<text x="234.31" y="207.9" class="t" font-size="10.2" textLength="4.1" lengthAdjust="spacingAndGlyphs" fill="#2a2a2a">6</text>
<text x="264.87" y="207.9" class="t" font-size="10.2" textLength="4.1" lengthAdjust="spacingAndGlyphs" fill="#2a2a2a">7</text>
<text x="295.43" y="207.9" class="t" font-size="10.2" textLength="4.1" lengthAdjust="spacingAndGlyphs" fill="#2a2a2a">8</text>
<text x="325.99" y="207.9" class="t" font-size="10.2" textLength="4.1" lengthAdjust="spacingAndGlyphs" fill="#2a2a2a">9</text>
<text x="354.6" y="207.9" class="t" font-size="10.2" textLength="8.0" lengthAdjust="spacingAndGlyphs" fill="#2a2a2a">10</text>
<text x="37.2" y="186.9" class="t" font-size="10.4" textLength="3.8" lengthAdjust="spacingAndGlyphs" fill="#2a2a2a">0</text>
<text x="29.8" y="129.67" class="t" font-size="10.4" textLength="11.2" lengthAdjust="spacingAndGlyphs" fill="#2a2a2a">500</text>
<text x="24.2" y="72.43" class="t" font-size="10.4" textLength="16.8" lengthAdjust="spacingAndGlyphs" fill="#2a2a2a">1,000</text>
<text x="24.6" y="15.2" class="t" font-size="10.4" textLength="16.4" lengthAdjust="spacingAndGlyphs" fill="#2a2a2a">1,500</text>
<text x="187" y="221.1" class="t" font-size="9.2" textLength="37.8" lengthAdjust="spacingAndGlyphs" fill="#2a2a2a">Energy [keV]</text>
<text transform="translate(13.5,123.3) rotate(-90)" x="0" y="0" class="t2" font-size="8" textLength="74.3" lengthAdjust="spacingAndGlyphs" fill="#2a2a2a">Intensity [Counts]</text>
<text x="173.5" y="26.9" class="ttl" fill="#000">Blank</text></g>
<g><path d="M421.98 180.2v4M428.36 180.2v4M434.74 180.2v4M441.12 180.2v4M453.88 180.2v4M460.26 180.2v4M466.64 180.2v4M473.02 180.2v4M485.78 180.2v4M492.16 180.2v4M498.54 180.2v4M504.92 180.2v4M517.68 180.2v4M524.06 180.2v4M530.44 180.2v4M536.82 180.2v4M549.58 180.2v4M555.96 180.2v4M562.34 180.2v4M568.72 180.2v4M581.48 180.2v4M587.86 180.2v4M594.24 180.2v4M600.62 180.2v4M613.38 180.2v4M619.76 180.2v4M626.14 180.2v4M632.52 180.2v4M645.28 180.2v4M651.66 180.2v4M658.04 180.2v4M664.42 180.2v4M677.18 180.2v4M683.56 180.2v4M689.94 180.2v4M696.32 180.2v4M709.08 180.2v4M715.46 180.2v4M721.84 180.2v4M728.22 180.2v4" stroke="#505050" stroke-width="1" fill="none"/>
<path d="M447.5 180.2v11M479.4 180.2v11M511.3 180.2v11M543.2 180.2v11M575.1 180.2v11M607 180.2v11M638.9 180.2v11M670.8 180.2v11M702.7 180.2v11" stroke="#505050" stroke-width="1" fill="none"/>
<path d="M412.6 164.58h3M412.6 148.96h3M412.6 133.34h3M412.6 117.72h3M412.6 86.48h3M412.6 70.86h3M412.6 55.24h3M412.6 39.62h3M412.6 8.38h3" stroke="#505050" stroke-width="1" fill="none"/>
<path d="M410 102.1h5.6M407.3 24h8.3" stroke="#383838" stroke-width="1" fill="none"/>
<path d="M415.6 191.2V1.3" stroke="#555" stroke-width="1.1" fill="none"/>
<path d="M734.6 191.2V1.3" stroke="#a8a8a8" stroke-width="1.5" fill="none"/>
<path d="M415 1.3H735.2" stroke="#484848" stroke-width="1.2" fill="none"/>
<path d="M407.6 180.5H734.6" stroke="#3a3a3a" stroke-width="1.1" fill="none"/>
<polyline points="415.6,180.2 415.76,180.18 415.92,180.2 416.08,180.05 416.24,180.15 416.4,180.13 416.56,180.2 416.72,180.13 416.88,179.89 417.04,180.2 417.2,179.95 417.35,179.79 417.51,179.96 417.67,179.69 417.83,179.9 417.99,179.1 418.15,178.99 418.31,179.11 418.47,179.69 418.63,179.32 418.79,178.38 418.95,177.92 419.11,178.37 419.27,177.79 419.43,178.51 419.59,178.18 419.75,177.94 419.91,177.58 420.07,178.49 420.23,177 420.39,176.63 420.54,178.02 420.7,178.12 420.86,177.11 421.02,177.67 421.18,178.63 421.34,176.74 421.5,177.07 421.66,177.37 421.82,175.71 421.98,176.79 422.14,177.19 422.3,176.44 422.46,176.95 422.62,176.46 422.78,175.27 422.94,175.54 423.1,175 423.26,172.93 423.42,173.04 423.58,172.62 423.73,172.42 423.89,172.13 424.05,171.19 424.21,172.22 424.37,170.85 424.53,173.13 424.69,172.88 424.85,174.08 425.01,173.72 425.17,173.52 425.33,173.3 425.49,175.31 425.65,175.21 425.81,175.82 425.97,176.35 426.13,176.85 426.29,176.11 426.45,177.4 426.61,176.17 426.77,176.21 426.92,176.61 427.08,176.78 427.24,176.95 427.4,174.57 427.56,176.76 427.72,174.62 427.88,175.27 428.04,175.96 428.2,176.55 428.36,175.02 428.52,174.62 428.68,176.6 428.84,176.25 429,175.41 429.16,175.98 429.32,174.89 429.48,176.62 429.64,175.8 429.8,176.9 429.96,174.3 430.11,176.02 430.27,176.69 430.43,174.61 430.59,173.97 430.75,171.68 430.91,172.52 431.07,171.35 431.23,169.91 431.39,168.15 431.55,168.41 431.71,166.61 431.87,166.13 432.03,165.98 432.19,165.01 432.35,164.48 432.51,164.75 432.67,162.67 432.83,164.34 432.99,161.92 433.15,161.61 433.3,161.84 433.46,161.62 433.62,160.24 433.78,158.54 433.94,156.99 434.1,155.88 434.26,153.72 434.42,153.38 434.58,151.14 434.74,151.15 434.9,147.82 435.06,147.12 435.22,146.51 435.38,144.09 435.54,143.32 435.7,144.86 435.86,140.29 436.02,138.71 436.18,132.45 436.34,125.92 436.49,122.34 436.65,114.42 436.81,106.85 436.97,98.44 437.13,91.19 437.29,85.21 437.45,84.79 437.61,81.88 437.77,87.55 437.93,91.97 438.09,99.16 438.25,109.4 438.41,121.59 438.57,131.94 438.73,141.68 438.89,150.16 439.05,156.62 439.21,164.51 439.37,167.68 439.53,170.9 439.68,173.26 439.84,174.89 440,175.2 440.16,176.55 440.32,176.72 440.48,177.12 440.64,176.57 440.8,178.66 440.96,176.97 441.12,177.83 441.28,177.84 441.44,178.21 441.6,178.7 441.76,177.9 441.92,178.06 442.08,177.42 442.24,178.48 442.4,176.91 442.56,177.53 442.72,177.81 442.87,178.06 443.03,178.1 443.19,178.28 443.35,177.96 443.51,177.66 443.67,177.76 443.83,178.43 443.99,177.8 444.15,178.14 444.31,177.57 444.47,176.65 444.63,177.31 444.79,177.82 444.95,178.53 445.11,178.41 445.27,178.56 445.43,177.25 445.59,178.05 445.75,177.6 445.91,177.97 446.06,177.58 446.22,176.87 446.38,178 446.54,177.81 446.7,178.06 446.86,177.14 447.02,178.18 447.18,178.23 447.34,178.37 447.5,178.38 447.66,177.35 447.82,176.2 447.98,178.15 448.14,177.08 448.3,177.46 448.46,178.2 448.62,177.75 448.78,177.72 448.94,177.97 449.1,176.53 449.25,178.63 449.41,177.38 449.57,177.4 449.73,177.9 449.89,177.5 450.05,177.09 450.21,177.49 450.37,177.34 450.53,177.19 450.69,178.69 450.85,176.75 451.01,176.31 451.17,177.02 451.33,177 451.49,178.33 451.65,177.62 451.81,178 451.97,177.87 452.13,177.01 452.29,177.99 452.44,177.61 452.6,178.6 452.76,177.63 452.92,177.49 453.08,177.92 453.24,177.93 453.4,176.48 453.56,178.2 453.72,178.11 453.88,177.97 454.04,176.85 454.2,176.35 454.36,177.33 454.52,177.91 454.68,177.75 454.84,176.92 455,178.01 455.16,176.7 455.32,176.71 455.48,177.46 455.63,177.14 455.79,177.08 455.95,176.63 456.11,178.08 456.27,176.83 456.43,177.7 456.59,177.91 456.75,177.42 456.91,177.6 457.07,178.03 457.23,178.37 457.39,178 457.55,176.66 457.71,176.37 457.87,177.1 458.03,176.8 458.19,177.75 458.35,177.5 458.51,177.3 458.67,178.06 458.82,178.01 458.98,177.4 459.14,177.63 459.3,178.05 459.46,177.23 459.62,177.59 459.78,176.86 459.94,177.44 460.1,177.6 460.26,177.36 460.42,177.53 460.58,177.81 460.74,177.65 460.9,177 461.06,177.06 461.22,176.69 461.38,178.38 461.54,177.64 461.7,177.65 461.86,177.31 462.01,177.66 462.17,177.7 462.33,176.96 462.49,177.3 462.65,178.06 462.81,176.64 462.97,176.83 463.13,177.72 463.29,176.92 463.45,177.81 463.61,176.74 463.77,177.49 463.93,177.82 464.09,177.56 464.25,177.78 464.41,177.22 464.57,177.22 464.73,177.29 464.89,177.63 465.05,179.41 465.2,177.23 465.36,178.38 465.52,177.12 465.68,176.6 465.84,177.09 466,177.47 466.16,177.33 466.32,177.3 466.48,177.53 466.64,177.54 466.8,177.74 466.96,176.48 467.12,177.18 467.28,176.6 467.44,177.3 467.6,177.1 467.76,177.24 467.92,176.85 468.08,176.62 468.24,176.96 468.39,177.5 468.55,177.56 468.71,176.08 468.87,177.24 469.03,177.24 469.19,176.17 469.35,176.38 469.51,176.71 469.67,177.26 469.83,175.59 469.99,176.77 470.15,176.66 470.31,177.09 470.47,177.84 470.63,177.78 470.79,176.71 470.95,176.71 471.11,177.09 471.27,177.65 471.43,177.81 471.58,177.11 471.74,177.8 471.9,176.34 472.06,176.17 472.22,175.12 472.38,176.32 472.54,177.22 472.7,177.39 472.86,178.99 473.02,177.2 473.18,176.93 473.34,176.2 473.5,176.41 473.66,176.42 473.82,176.64 473.98,176.35 474.14,175.85 474.3,177.42 474.46,177.03 474.62,177.61 474.77,175.7 474.93,175.89 475.09,176.23 475.25,177.46 475.41,176.58 475.57,176.83 475.73,176.62 475.89,176.78 476.05,176.31 476.21,176.89 476.37,176.08 476.53,176.46 476.69,176.8 476.85,176.67 477.01,176.88 477.17,176.06 477.33,176.75 477.49,176.37 477.65,176.81 477.81,177.51 477.96,175.95 478.12,177.22 478.28,176.07 478.44,176.23 478.6,177.58 478.76,177.11 478.92,176.82 479.08,177.01 479.24,177.24 479.4,175.96 479.56,176.61 479.72,176.2 479.88,176.73 480.04,176.25 480.2,176.94 480.36,176.46 480.52,176.06 480.68,176.42 480.84,176.75 481,177.16 481.15,176.33 481.31,176.21 481.47,176.61 481.63,176.95 481.79,176.08 481.95,174.8 482.11,176.64 482.27,176.21 482.43,176.19 482.59,178.13 482.75,176.35 482.91,176.9 483.07,175.52 483.23,176.6 483.39,176.95 483.55,176.58 483.71,176.32 483.87,176.8 484.03,176.46 484.19,177.32 484.34,176.58 484.5,175.91 484.66,175.12 484.82,175.96 484.98,176.24 485.14,175.64 485.3,175.74 485.46,175.31 485.62,175.69 485.78,176.48 485.94,176.23 486.1,176.27 486.26,176.18 486.42,176.24 486.58,176.88 486.74,177.74 486.9,176.76 487.06,177.65 487.22,176.2 487.38,176.21 487.53,177.32 487.69,175.65 487.85,175.48 488.01,175.97 488.17,174.82 488.33,174.62 488.49,176.75 488.65,175.12 488.81,175.51 488.97,175.5 489.13,175.11 489.29,176.29 489.45,176.21 489.61,176.39 489.77,176.36 489.93,175.92 490.09,176.91 490.25,176.66 490.41,175.57 490.57,176.07 490.72,175.8 490.88,177.41 491.04,176.69 491.2,176.57 491.36,176.21 491.52,176.66 491.68,175.66 491.84,176.35 492,176.31 492.16,176.33 492.32,175.88 492.48,176.68 492.64,175.62 492.8,176.07 492.96,176.27 493.12,176.35 493.28,176.03 493.44,175.7 493.6,175.75 493.75,176.13 493.91,175.8 494.07,176.3 494.23,175.54 494.39,176.4 494.55,177.76 494.71,175.49 494.87,176.3 495.03,177.15 495.19,176.51 495.35,176.96 495.51,174.97 495.67,176.04 495.83,177.42 495.99,176.01 496.15,176.63 496.31,175.09 496.47,177.07 496.63,177.86 496.79,176.32 496.95,176.6 497.1,176.64 497.26,177.79 497.42,176.08 497.58,175.25 497.74,177.63 497.9,175.58 498.06,176.74 498.22,174.79 498.38,176.07 498.54,176.48 498.7,175.62 498.86,176 499.02,176.75 499.18,175.88 499.34,176.69 499.5,177.55 499.66,175 499.82,176.58 499.98,176.76 500.13,176.12 500.29,177.39 500.45,177.25 500.61,176.68 500.77,176.69 500.93,176.3 501.09,175.59 501.25,176.66 501.41,176.01 501.57,175.94 501.73,177.07 501.89,176.19 502.05,176.97 502.21,175.63 502.37,176.03 502.53,176.33 502.69,177.23 502.85,176.26 503.01,176.85 503.17,175.86 503.33,176.41 503.48,176.88 503.64,175.71 503.8,175.85 503.96,176.73 504.12,175.55 504.28,176.53 504.44,176.54 504.6,176.24 504.76,176.83 504.92,176.62 505.08,176.43 505.24,175.3 505.4,175.32 505.56,176.5 505.72,175.24 505.88,176.35 506.04,176.07 506.2,175.73 506.36,176.12 506.51,174.7 506.67,176.15 506.83,177.12 506.99,175.44 507.15,176.59 507.31,176.52 507.47,178.32 507.63,175.64 507.79,175.76 507.95,175.77 508.11,175.65 508.27,175.17 508.43,176.34 508.59,175.68 508.75,176.81 508.91,176.54 509.07,175.6 509.23,176.04 509.39,177.2 509.55,176.06 509.71,176.43 509.86,176.85 510.02,176.01 510.18,176.57 510.34,177.36 510.5,177.05 510.66,175.11 510.82,177.32 510.98,176.15 511.14,175.89 511.3,175.86 511.46,177.12 511.62,176.51 511.78,176.2 511.94,175.76 512.1,176.74 512.26,177.09 512.42,175.63 512.58,175.57 512.74,176.06 512.89,176.72 513.05,176.04 513.21,176.24 513.37,175.75 513.53,177.15 513.69,176.24 513.85,176.43 514.01,177.07 514.17,176.18 514.33,176.3 514.49,176.6 514.65,176.06 514.81,177.28 514.97,176.37 515.13,176.04 515.29,176.14 515.45,175.62 515.61,177.14 515.77,177.35 515.93,176.18 516.09,176.04 516.24,174.93 516.4,175.93 516.56,176.93 516.72,175.81 516.88,176.91 517.04,177.34 517.2,174.61 517.36,176.14 517.52,175.88 517.68,175.98 517.84,175.15 518,176.17 518.16,175.55 518.32,177.05 518.48,177.29 518.64,175.42 518.8,175.39 518.96,176.03 519.12,176.22 519.27,176.26 519.43,176.83 519.59,175.35 519.75,175.94 519.91,176.04 520.07,176.13 520.23,175.69 520.39,176.05 520.55,175.89 520.71,177.16 520.87,176.05 521.03,174.94 521.19,176.74 521.35,176.48 521.51,175.8 521.67,175.76 521.83,175.98 521.99,177.47 522.15,176.07 522.31,177.19 522.47,176.95 522.62,176.04 522.78,176.6 522.94,175.87 523.1,174.32 523.26,175.9 523.42,175.93 523.58,177.01 523.74,176.84 523.9,177.12 524.06,176.77 524.22,177.14 524.38,176.86 524.54,176.56 524.7,177.09 524.86,177.37 525.02,177.33 525.18,176.13 525.34,176.39 525.5,175.76 525.65,175.75 525.81,176.66 525.97,176 526.13,177.39 526.29,174.94 526.45,175.65 526.61,176.59 526.77,177.21 526.93,176.2 527.09,177.68 527.25,176.96 527.41,175.96 527.57,176.4 527.73,176.78 527.89,175.83 528.05,177.14 528.21,176.27 528.37,176.79 528.53,177.02 528.69,176.16 528.85,177.12 529,175.22 529.16,176.85 529.32,175.16 529.48,177.19 529.64,176.08 529.8,177.26 529.96,177.36 530.12,176.37 530.28,176.04 530.44,177.32 530.6,175.71 530.76,177.01 530.92,176.4 531.08,176.24 531.24,176.1 531.4,177.67 531.56,175.43 531.72,176.13 531.88,176.78 532.03,177.17 532.19,177.61 532.35,177.39 532.51,176.15 532.67,176.73 532.83,177.25 532.99,176.85 533.15,175.49 533.31,176.73 533.47,176.89 533.63,175.63 533.79,176.21 533.95,176.49 534.11,176.92 534.27,177.53 534.43,177.29 534.59,176.84 534.75,176.67 534.91,176.29 535.07,176.17 535.23,176.38 535.38,176.39 535.54,177.19 535.7,177.94 535.86,176.87 536.02,177.16 536.18,176.96 536.34,176.72 536.5,177.35 536.66,177.27 536.82,176.61 536.98,176.47 537.14,176.97 537.3,176.23 537.46,176.69 537.62,177.22 537.78,176.53 537.94,175.33 538.1,177 538.26,175.8 538.41,175.67 538.57,175.59 538.73,177.1 538.89,175.26 539.05,176.49 539.21,176.73 539.37,176.72 539.53,176.18 539.69,176.54 539.85,176.69 540.01,175.74 540.17,177.05 540.33,177.25 540.49,176.07 540.65,176.13 540.81,175.88 540.97,177.28 541.13,175.89 541.29,176.28 541.45,175.45 541.61,177.4 541.76,176.45 541.92,176.77 542.08,177.62 542.24,177.06 542.4,175.87 542.56,176.9 542.72,177.07 542.88,176.04 543.04,175.97 543.2,175.97 543.36,177.12 543.52,176.65 543.68,175.95 543.84,177.03 544,177.09 544.16,176.08 544.32,175.61 544.48,177.36 544.64,178.29 544.8,177.55 544.95,177.27 545.11,176.71 545.27,176.22 545.43,176.71 545.59,177.07 545.75,176.52 545.91,177.24 546.07,176.65 546.23,177.04 546.39,174.9 546.55,176.1 546.71,177.16 546.87,177.27 547.03,176.91 547.19,177.68 547.35,177.1 547.51,177.1 547.67,176.06 547.83,176.9 547.99,177.14 548.14,177.49 548.3,177.39 548.46,176.68 548.62,176.77 548.78,175.91 548.94,177.04 549.1,175.96 549.26,176.47 549.42,176.64 549.58,177.93 549.74,177.47 549.9,176.16 550.06,175.74 550.22,176.51 550.38,176.15 550.54,176.9 550.7,176.88 550.86,177.07 551.02,176.02 551.17,176.43 551.33,176.8 551.49,176.86 551.65,176.29 551.81,176.44 551.97,177.18 552.13,175.55 552.29,176.49 552.45,176.65 552.61,175.71 552.77,176 552.93,176.71 553.09,176.31 553.25,177.34 553.41,177.07 553.57,178.11 553.73,175.88 553.89,177.87 554.05,176.22 554.21,177.19 554.37,177.29 554.52,176.79 554.68,176.49 554.84,176.27 555,175.53 555.16,176.44 555.32,176.1 555.48,177.05 555.64,176.21 555.8,176.57 555.96,176.97 556.12,176.73 556.28,176.71 556.44,176.55 556.6,176.42 556.76,177 556.92,177.15 557.08,176.2 557.24,177.76 557.4,177.07 557.56,175.69 557.71,178.41 557.87,177.12 558.03,176.24 558.19,177.73 558.35,175.02 558.51,178.33 558.67,175.77 558.83,175.69 558.99,176.1 559.15,176.83 559.31,176.46 559.47,177.26 559.63,176.17 559.79,177.4 559.95,176.86 560.11,176.06 560.27,177.4 560.43,176.92 560.59,176.59 560.75,177.55 560.9,175.95 561.06,176.48 561.22,177.66 561.38,176.73 561.54,177.19 561.7,177.12 561.86,176.65 562.02,177.15 562.18,176.09 562.34,177.15 562.5,176.08 562.66,176.73 562.82,176.16 562.98,177.05 563.14,177.03 563.3,177.44 563.46,176.34 563.62,176.11 563.78,175.36 563.94,175.89 564.09,176.55 564.25,176.84 564.41,176.46 564.57,176.73 564.73,175.78 564.89,176.11 565.05,177.25 565.21,177.15 565.37,175.85 565.53,176.52 565.69,176.86 565.85,175.97 566.01,176.97 566.17,176.9 566.33,177.01 566.49,177.97 566.65,176.17 566.81,177.49 566.97,177.08 567.12,177.2 567.28,176.26 567.44,176.77 567.6,176.72 567.76,177.79 567.92,176.78 568.08,177.66 568.24,176.54 568.4,176.5 568.56,176.74 568.72,175.44 568.88,176.4 569.04,176.36 569.2,176.64 569.36,176.86 569.52,176.12 569.68,176.04 569.84,177.56 570,176.07 570.16,176.41 570.32,176.13 570.47,176.45 570.63,177.53 570.79,177.48 570.95,175.59 571.11,176.58 571.27,177.64 571.43,176.53 571.59,176.98 571.75,177.91 571.91,178.19 572.07,177.76 572.23,176.58 572.39,176.78 572.55,176.91 572.71,176.57 572.87,176.37 573.03,178.08 573.19,176.94 573.35,177.28 573.5,177.53 573.66,177.1 573.82,176.83 573.98,176.93 574.14,177.68 574.3,177.06 574.46,175.49 574.62,177.43 574.78,177.83 574.94,176.59 575.1,176.39 575.26,176.47 575.42,177.47 575.58,176.13 575.74,177.26 575.9,177.48 576.06,177.15 576.22,176.83 576.38,176.31 576.54,176.37 576.7,176.78 576.85,176.18 577.01,176.71 577.17,176.2 577.33,177.65 577.49,177.76 577.65,176.27 577.81,177.64 577.97,176.95 578.13,176.83 578.29,177.07 578.45,177.05 578.61,175.89 578.77,178.36 578.93,176.21 579.09,175.32 579.25,176.75 579.41,176.78 579.57,176.31 579.73,175.61 579.88,177.51 580.04,176.71 580.2,176.88 580.36,176.41 580.52,176.66 580.68,176.35 580.84,177.03 581,176.73 581.16,177.19 581.32,177.18 581.48,176.85 581.64,176.85 581.8,177.5 581.96,175.77 582.12,176.85 582.28,177.64 582.44,176.07 582.6,177.24 582.76,176.44 582.92,176.77 583.08,176.61 583.23,176.66 583.39,177.13 583.55,176.74 583.71,175.48 583.87,178.17 584.03,176.72 584.19,176.49 584.35,177.43 584.51,177.63 584.67,175.4 584.83,177 584.99,175.45 585.15,176.43 585.31,176.72 585.47,176.46 585.63,176.36 585.79,176.02 585.95,176.49 586.11,176.67 586.27,176.65 586.42,175.91 586.58,176.25 586.74,177.4 586.9,177.16 587.06,176.56 587.22,177.16 587.38,177 587.54,177.37 587.7,176.93 587.86,176.5 588.02,176.14 588.18,176.76 588.34,175.46 588.5,176.81 588.66,174.75 588.82,176.13 588.98,176.45 589.14,177.08 589.3,178.54 589.46,176.86 589.61,176.65 589.77,175.55 589.93,177.63 590.09,175.56 590.25,176.92 590.41,176.31 590.57,178.36 590.73,176.68 590.89,176.98 591.05,176.33 591.21,176.71 591.37,177.49 591.53,176.18 591.69,176.34 591.85,176.4 592.01,176.15 592.17,176.09 592.33,176.8 592.49,177.64 592.64,177.66 592.8,175.95 592.96,176.36 593.12,176.74 593.28,177.08 593.44,176.79 593.6,176.8 593.76,177.03 593.92,177.26 594.08,175.47 594.24,176.68 594.4,177.21 594.56,177.64 594.72,177.29 594.88,176.39 595.04,176.37 595.2,176.98 595.36,176.81 595.52,177.04 595.68,177.54 595.84,176.04 595.99,176.62 596.15,175.32 596.31,177.33 596.47,176.95 596.63,176.31 596.79,177.01 596.95,177.72 597.11,177.45 597.27,176.8 597.43,176.64 597.59,176.91 597.75,176.22 597.91,176.22 598.07,176.63 598.23,176.81 598.39,176.97 598.55,176.45 598.71,176.2 598.87,176.72 599.02,176.45 599.18,176.91 599.34,177.57 599.5,177.28 599.66,176.1 599.82,176.26 599.98,175.47 600.14,176.42 600.3,175.83 600.46,175.45 600.62,175.6 600.78,176.62 600.94,176.26 601.1,175.97 601.26,176.68 601.42,175.58 601.58,175.1 601.74,176.1 601.9,174.25 602.06,175.82 602.22,175.68 602.37,175.64 602.53,175.92 602.69,175.03 602.85,175.27 603.01,174.01 603.17,174.75 603.33,174.77 603.49,175.32 603.65,176.19 603.81,175.21 603.97,175.78 604.13,174.46 604.29,175.21 604.45,173.99 604.61,174.73 604.77,174.7 604.93,175.21 605.09,175.29 605.25,175.03 605.4,174.92 605.56,176.19 605.72,175.4 605.88,173.97 606.04,175.98 606.2,176.18 606.36,176.57 606.52,177.16 606.68,175.44 606.84,176.29 607,176.2 607.16,175.26 607.32,174.9 607.48,177.17 607.64,175.99 607.8,176.32 607.96,176.51 608.12,176.51 608.28,176.87 608.44,175.91 608.6,176.55 608.75,176.75 608.91,176.22 609.07,176.46 609.23,176.75 609.39,176.85 609.55,176.01 609.71,176.78 609.87,177.15 610.03,177.62 610.19,177.32 610.35,177.75 610.51,177.07 610.67,176.99 610.83,178.37 610.99,177.14 611.15,176.77 611.31,177.06 611.47,177.72 611.63,176.4 611.79,177.56 611.94,177.86 612.1,177.75 612.26,177.09 612.42,176.45 612.58,176.27 612.74,176.78 612.9,177.56 613.06,177.11 613.22,177.11 613.38,176.43 613.54,177.27 613.7,175.62 613.86,174.79 614.02,174.85 614.18,173.74 614.34,173.98 614.5,173.41 614.66,171.63 614.82,168.88 614.98,167.33 615.13,166.55 615.29,163.01 615.45,161.63 615.61,157.2 615.77,154.68 615.93,151.7 616.09,146.46 616.25,143.19 616.41,138.3 616.57,133.32 616.73,125.9 616.89,119.97 617.05,113.47 617.21,107.03 617.37,98.16 617.53,93.06 617.69,86.35 617.85,77.2 618.01,70.22 618.16,65.04 618.32,61.55 618.48,54.74 618.64,48.44 618.8,45.11 618.96,39.9 619.12,41.26 619.28,37.19 619.44,38.39 619.6,36.37 619.76,39.62 619.92,40.59 620.08,45.98 620.24,50.99 620.4,55.41 620.56,60.24 620.72,66.71 620.88,70.55 621.04,77.17 621.2,85.34 621.36,93.8 621.51,99.88 621.67,107.42 621.83,112.07 621.99,119.74 622.15,125.81 622.31,132.51 622.47,139.41 622.63,143.34 622.79,148.25 622.95,151.18 623.11,155.18 623.27,159.26 623.43,161.88 623.59,162.93 623.75,167.15 623.91,169.04 624.07,170.16 624.23,171.91 624.39,172.88 624.55,173.14 624.7,173.05 624.86,176.32 625.02,175.56 625.18,175.95 625.34,176.38 625.5,176.73 625.66,177.04 625.82,176.39 625.98,177.41 626.14,177.32 626.3,177.32 626.46,177.32 626.62,177.53 626.78,176.91 626.94,177.5 627.1,177.43 627.26,177.57 627.42,178.11 627.58,178.02 627.74,178.15 627.89,177.47 628.05,177.98 628.21,178.17 628.37,177.47 628.53,177.31 628.69,178.57 628.85,176.69 629.01,177.6 629.17,177.68 629.33,177.04 629.49,177.59 629.65,177.96 629.81,176.44 629.97,178.22 630.13,177.7 630.29,177.19 630.45,178.23 630.61,177.71 630.77,177.45 630.92,176.36 631.08,178.15 631.24,177.69 631.4,177.32 631.56,177.63 631.72,178.33 631.88,177.46 632.04,177.63 632.2,177.45 632.36,177.08 632.52,177.15 632.68,177.47 632.84,177.52 633,178.28 633.16,177.75 633.32,177.56 633.48,177.88 633.64,177.6 633.8,178.08 633.96,176.77 634.12,176.39 634.27,177.75 634.43,177.25 634.59,177.55 634.75,176.61 634.91,176.98 635.07,177.08 635.23,177.12 635.39,176.74 635.55,177.27 635.71,175.95 635.87,176.63 636.03,175.46 636.19,175.4 636.35,174.3 636.51,174.69 636.67,173.44 636.83,174.37 636.99,172.65 637.15,172.65 637.31,171.67 637.46,171.06 637.62,169.66 637.78,171.14 637.94,168.56 638.1,169.15 638.26,166.26 638.42,167.91 638.58,166.37 638.74,166.14 638.9,162.82 639.06,164.45 639.22,162.74 639.38,162.71 639.54,163.27 639.7,161.75 639.86,160.69 640.02,161.21 640.18,160.26 640.34,161.36 640.5,161.23 640.65,161.81 640.81,161.59 640.97,160.82 641.13,162.58 641.29,163.32 641.45,164.64 641.61,165.47 641.77,164.51 641.93,167.31 642.09,167.97 642.25,168.16 642.41,169.23 642.57,168.21 642.73,172.28 642.89,170.96 643.05,171.4 643.21,173.45 643.37,173.72 643.53,173.5 643.69,173.14 643.84,175.52 644,176.44 644.16,174.96 644.32,174.95 644.48,176.54 644.64,178.02 644.8,175.91 644.96,177.14 645.12,176.53 645.28,177.37 645.44,177.67 645.6,177.82 645.76,176.86 645.92,176.96 646.08,178.91 646.24,178.32 646.4,176.95 646.56,178.09 646.72,178.63 646.88,177.95 647.03,178.03 647.19,178.03 647.35,178.24 647.51,178.16 647.67,178.24 647.83,177.85 647.99,178.43 648.15,178.18 648.31,178.11 648.47,177.39 648.63,177.86 648.79,178.1 648.95,177.79 649.11,177.85 649.27,177.52 649.43,177.81 649.59,177.18 649.75,177.4 649.91,178.09 650.07,178.28 650.22,177.64 650.38,177.83 650.54,178.13 650.7,178.81 650.86,178.99 651.02,177.92 651.18,177.72 651.34,177.71 651.5,178.73 651.66,177.6 651.82,178.37 651.98,177.92 652.14,177.91 652.3,178.51 652.46,178.41 652.62,179.14 652.78,178.58 652.94,179.01 653.1,177.92 653.25,178.11 653.41,177.7 653.57,177.97 653.73,178.46 653.89,177.98 654.05,178.34 654.21,177.86 654.37,178.01 654.53,178.64 654.69,178.17 654.85,178.14 655.01,178.32 655.17,177.74 655.33,177.35 655.49,178.36 655.65,178.35 655.81,179.27 655.97,178.25 656.13,178.4 656.29,179.23 656.44,178.06 656.6,177.92 656.76,178.56 656.92,178.39 657.08,178.67 657.24,177.85 657.4,178.94 657.56,178.37 657.72,177.3 657.88,178.2 658.04,178.01 658.2,178.3 658.36,178.79 658.52,178.26 658.68,178.05 658.84,178.73 659,178.09 659.16,177.67 659.32,177.75 659.48,179.01 659.63,178.72 659.79,179.03 659.95,177.77 660.11,177.99 660.27,177.95 660.43,178.69 660.59,178.83 660.75,178.25 660.91,178.24 661.07,178.69 661.23,178.23 661.39,178 661.55,178.19 661.71,178.79 661.87,179.29 662.03,178.43 662.19,178.24 662.35,178.44 662.51,178.52 662.67,178.64 662.83,177.99 662.98,178.35 663.14,178.27 663.3,178.78 663.46,178.62 663.62,178.27 663.78,178.81 663.94,178.93 664.1,178.5 664.26,177.8 664.42,178.27 664.58,177.69 664.74,178.42 664.9,178.51 665.06,179.01 665.22,178.64 665.38,177.72 665.54,178.23 665.7,178.05 665.86,178.06 666.01,178.39 666.17,178.48 666.33,178.34 666.49,178.09 666.65,178.19 666.81,178.18 666.97,178.34 667.13,178.76 667.29,178.53 667.45,178.84 667.61,177.97 667.77,179.37 667.93,178.52 668.09,177.36 668.25,178.59 668.41,178.94 668.57,178.45 668.73,177.86 668.89,178.52 669.05,178.17 669.21,178.41 669.36,178.62 669.52,177.05 669.68,178.43 669.84,178.7 670,178.68 670.16,178.3 670.32,178.29 670.48,178.13 670.64,178.42 670.8,179.12 670.96,178.25 671.12,178.62 671.28,178.61 671.44,179.14 671.6,178.74 671.76,178.81 671.92,178.51 672.08,179.14 672.24,178.47 672.39,178.44 672.55,178.99 672.71,178.78 672.87,178.88 673.03,178.1 673.19,179.62 673.35,178.66 673.51,179.24 673.67,178.7 673.83,178.14 673.99,178.79 674.15,178.45 674.31,178.89 674.47,177.67 674.63,178.12 674.79,178.03 674.95,179.1 675.11,179.01 675.27,178.05 675.43,178.61 675.59,178.64 675.74,178.38 675.9,179.08 676.06,178.2 676.22,178.53 676.38,178.33 676.54,178.83 676.7,178.32 676.86,178.85 677.02,178.13 677.18,178.05 677.34,178.15 677.5,178.32 677.66,178.27 677.82,179.72 677.98,178.19 678.14,178.67 678.3,178.51 678.46,178.68 678.62,179.16 678.78,178.79 678.93,178.28 679.09,177.95 679.25,178.83 679.41,178.96 679.57,177.94 679.73,178.95 679.89,177.68 680.05,178.55 680.21,178.95 680.37,178.15 680.53,177.85 680.69,179.2 680.85,177.91 681.01,178.7 681.17,177.95 681.33,178.75 681.49,179.26 681.65,178.37 681.81,178.19 681.96,177.69 682.12,177.85 682.28,178.3 682.44,178.7 682.6,178.82 682.76,178.72 682.92,178.96 683.08,178.72 683.24,179.69 683.4,178.53 683.56,178.62 683.72,177.52 683.88,178.29 684.04,178.82 684.2,178.37 684.36,179.14 684.52,178.87 684.68,179.41 684.84,178.01 685,178.37 685.15,179.12 685.31,178.65 685.47,178.22 685.63,178.42 685.79,178.47 685.95,178.99 686.11,178.9 686.27,178.59 686.43,178.25 686.59,178.99 686.75,179.11 686.91,178.16 687.07,179.03 687.23,178.19 687.39,178.54 687.55,178.28 687.71,177.91 687.87,178.36 688.03,178.32 688.19,179.04 688.35,178.95 688.5,178.38 688.66,178.01 688.82,178.07 688.98,177.69 689.14,178.53 689.3,178.58 689.46,178.24 689.62,178.66 689.78,178.69 689.94,179.11 690.1,178.26 690.26,179.12 690.42,178.46 690.58,179.27 690.74,178.22 690.9,179.11 691.06,178.33 691.22,179.34 691.38,178.87 691.54,178.2 691.69,179.02 691.85,178.66 692.01,178.89 692.17,179.65 692.33,178.57 692.49,178.52 692.65,179.15 692.81,178.46 692.97,179.03 693.13,179.12 693.29,178.7 693.45,178.98 693.61,177.76 693.77,179.35 693.93,178.4 694.09,178.3 694.25,179.53 694.41,179.43 694.57,178.48 694.73,178.91 694.88,178.56 695.04,178.25 695.2,178.87 695.36,179.16 695.52,179.84 695.68,178.64 695.84,179.11 696,178.6 696.16,178.64 696.32,179.3 696.48,178.03 696.64,178.29 696.8,178.39 696.96,179.22 697.12,178.91 697.28,178.96 697.44,178.91 697.6,179.2 697.76,178.57 697.91,178.65 698.07,178.6 698.23,178.96 698.39,178.23 698.55,178.68 698.71,179.87 698.87,179.02 699.03,178.78 699.19,178.37 699.35,178.88 699.51,178.86 699.67,179.03 699.83,178.5 699.99,178.95 700.15,179.01 700.31,179.07 700.47,178.55 700.63,178.99 700.79,179.45 700.95,178.53 701.11,179.06 701.26,178.64 701.42,178.63 701.58,178.3 701.74,178.37 701.9,179.02 702.06,178.85 702.22,179.31 702.38,178.12 702.54,178.62 702.7,178.24 702.86,178.92 703.02,179.61 703.18,178.18 703.34,178.76 703.5,178.74 703.66,178.78 703.82,178.54 703.98,178.59 704.14,179.44 704.3,178.37 704.45,179.01 704.61,178.99 704.77,178.12 704.93,178.44 705.09,178.94 705.25,179.55 705.41,178.74 705.57,178.59 705.73,178.84 705.89,179.31 706.05,179.12 706.21,179.31 706.37,178.73 706.53,178.49 706.69,178.41 706.85,179.11 707.01,178.72 707.17,178.6 707.33,179.02 707.49,178.88 707.64,177.98 707.8,178.74 707.96,178.47 708.12,178.99 708.28,178.8 708.44,179.5 708.6,178.83 708.76,178.35 708.92,177.99 709.08,178.35 709.24,178.55 709.4,178.81 709.56,179.06 709.72,178.89 709.88,178.59 710.04,179.14 710.2,178.46 710.36,179.22 710.52,179.53 710.67,179.23 710.83,179.49 710.99,179.38 711.15,178.39 711.31,178.92 711.47,178.75 711.63,178.38 711.79,178.34 711.95,179.04 712.11,178.32 712.27,178.69 712.43,178.84 712.59,178.67 712.75,179.4 712.91,179.15 713.07,178.89 713.23,178.61 713.39,178.99 713.55,178.9 713.71,178.47 713.87,178.3 714.02,178.55 714.18,178.35 714.34,179.01 714.5,178.97 714.66,178.73 714.82,178.97 714.98,179.05 715.14,178.21 715.3,178.93 715.46,179.23 715.62,178.67 715.78,178.14 715.94,178.83 716.1,178.38 716.26,179.03 716.42,179.05 716.58,179.13 716.74,178.92 716.9,178.15 717.06,179.31 717.21,178.23 717.37,179.26 717.53,178.96 717.69,178.54 717.85,178.62 718.01,178.76 718.17,179.51 718.33,178.73 718.49,179.27 718.65,177.87 718.81,178.96 718.97,178.8 719.13,179.32 719.29,179.06 719.45,179.38 719.61,178.5 719.77,178.98 719.93,178.66 720.09,179.14 720.25,179.07 720.4,178.38 720.56,179.26 720.72,179.58 720.88,178.73 721.04,179.33 721.2,179.05 721.36,178.53 721.52,179.2 721.68,178.55 721.84,179.15 722,178.31 722.16,178.38 722.32,179.07 722.48,178.97 722.64,179.21 722.8,178.82 722.96,178.45 723.12,179.45 723.28,178.54 723.43,179.41 723.59,179.23 723.75,179.59 723.91,178.09 724.07,178.88 724.23,178.81 724.39,179.16 724.55,178.49 724.71,179.71 724.87,178.89 725.03,178.06 725.19,179.05 725.35,178.9 725.51,178.65 725.67,179.22 725.83,178.9 725.99,178.54 726.15,178.83 726.31,178.77 726.47,179.04 726.62,178.79 726.78,178.89 726.94,178.36 727.1,178.64 727.26,179.01 727.42,179.85 727.58,178.64 727.74,178.63 727.9,179.27 728.06,179.68 728.22,179.35 728.38,178.57 728.54,179.33 728.7,179.1 728.86,178.84 729.02,178.46 729.18,178.93 729.34,178.96 729.5,179.13 729.66,178.31 729.82,178.52 729.97,178.96 730.13,179.46 730.29,179.23 730.45,178.71 730.61,179.2 730.77,178.59 730.93,178.8 731.09,178.82 731.25,178.69 731.41,178.75 731.57,179.26 731.73,179.06 731.89,178.05 732.05,179.4 732.21,179.12 732.37,178.54 732.53,179 732.69,179.25 732.85,179.44 733.01,178.74 733.16,178.56 733.32,178.42 733.48,178.92 733.64,178.55 733.8,179.34 733.96,178.88 734.12,179.2 734.28,178.88 734.44,178.67 734.6,178.55" fill="none" stroke="#ff2d2d" stroke-width="0.9" stroke-linejoin="round"/>
<path d="M427.9 128.9V175" stroke="#909090" stroke-width="1" fill="none"/>
<path d="M432.4 146.2V164" stroke="#909090" stroke-width="1" fill="none"/>
<path d="M424.35 163V169.5" stroke="#909090" stroke-width="1" fill="none"/>
<path d="M489.4 169.4V174" stroke="#909090" stroke-width="1" fill="none"/>
<path d="M619.55 35.7V37.7" stroke="#909090" stroke-width="1" fill="none"/>
<path d="M640.55 154.9V161" stroke="#909090" stroke-width="1" fill="none"/>
<rect x="432.6" y="73" width="11.1" height="16.3" fill="#d9d9d9" fill-opacity="0.85" stroke="#b0b0b0" stroke-width="0.9"/>
<text x="434.65" y="84.65" class="tb" font-size="10.1" textLength="7.0" lengthAdjust="spacingAndGlyphs" fill="#1a1a1a">Fe</text>
<rect x="423.2" y="113" width="9.4" height="15.4" fill="#d9d9d9" fill-opacity="0.85" stroke="#b0b0b0" stroke-width="0.9"/>
<text x="425.4" y="124.4" class="tb" font-size="10.4" textLength="5.0" lengthAdjust="spacingAndGlyphs" fill="#1a1a1a">N</text>
<rect x="427.8" y="129.9" width="9.2" height="15.8" fill="#d9d9d9" fill-opacity="0.85" stroke="#b0b0b0" stroke-width="0.9"/>
<text x="429.9" y="141.5" class="tb" font-size="10.4" textLength="5.0" lengthAdjust="spacingAndGlyphs" fill="#1a1a1a">O</text>
<rect x="419.9" y="146.7" width="8.9" height="15.8" fill="#d9d9d9" fill-opacity="0.85" stroke="#b0b0b0" stroke-width="0.9"/>
<text x="422.15" y="158.3" class="tb" font-size="10.4" textLength="4.4" lengthAdjust="spacingAndGlyphs" fill="#1a1a1a">C</text>
<rect x="485.6" y="153.1" width="7.6" height="15.8" fill="#d9d9d9" fill-opacity="0.85" stroke="#b0b0b0" stroke-width="0.9"/>
<text x="487.4" y="164.7" class="tb" font-size="10.4" textLength="4.0" lengthAdjust="spacingAndGlyphs" fill="#1a1a1a">S</text>
<rect x="613.9" y="18.8" width="11.3" height="16.4" fill="#d9d9d9" fill-opacity="0.85" stroke="#b0b0b0" stroke-width="0.9"/>
<text x="616.05" y="30.5" class="tb" font-size="10.1" textLength="7.0" lengthAdjust="spacingAndGlyphs" fill="#1a1a1a">Fe</text>
<rect x="635.1" y="138" width="10.9" height="16.4" fill="#d9d9d9" fill-opacity="0.85" stroke="#b0b0b0" stroke-width="0.9"/>
<text x="637.05" y="149.7" class="tb" font-size="10.1" textLength="7.0" lengthAdjust="spacingAndGlyphs" fill="#1a1a1a">Fe</text>
<text x="413.55" y="205.1" class="t" font-size="10.2" textLength="4.1" lengthAdjust="spacingAndGlyphs" fill="#2a2a2a">0</text>
<text x="445.45" y="205.1" class="t" font-size="10.2" textLength="4.1" lengthAdjust="spacingAndGlyphs" fill="#2a2a2a">1</text>
<text x="477.35" y="205.1" class="t" font-size="10.2" textLength="4.1" lengthAdjust="spacingAndGlyphs" fill="#2a2a2a">2</text>
<text x="509.25" y="205.1" class="t" font-size="10.2" textLength="4.1" lengthAdjust="spacingAndGlyphs" fill="#2a2a2a">3</text>
<text x="541.15" y="205.1" class="t" font-size="10.2" textLength="4.1" lengthAdjust="spacingAndGlyphs" fill="#2a2a2a">4</text>
<text x="573.05" y="205.1" class="t" font-size="10.2" textLength="4.1" lengthAdjust="spacingAndGlyphs" fill="#2a2a2a">5</text>
<text x="604.95" y="205.1" class="t" font-size="10.2" textLength="4.1" lengthAdjust="spacingAndGlyphs" fill="#2a2a2a">6</text>
<text x="636.85" y="205.1" class="t" font-size="10.2" textLength="4.1" lengthAdjust="spacingAndGlyphs" fill="#2a2a2a">7</text>
<text x="668.75" y="205.1" class="t" font-size="10.2" textLength="4.1" lengthAdjust="spacingAndGlyphs" fill="#2a2a2a">8</text>
<text x="700.65" y="205.1" class="t" font-size="10.2" textLength="4.1" lengthAdjust="spacingAndGlyphs" fill="#2a2a2a">9</text>
<text x="730.6" y="205.1" class="t" font-size="10.2" textLength="8.0" lengthAdjust="spacingAndGlyphs" fill="#2a2a2a">10</text>
<text x="399.8" y="184.4" class="t" font-size="10.4" textLength="3.8" lengthAdjust="spacingAndGlyphs" fill="#2a2a2a">0</text>
<text x="392.4" y="106.3" class="t" font-size="10.4" textLength="11.2" lengthAdjust="spacingAndGlyphs" fill="#2a2a2a">500</text>
<text x="386.8" y="28.2" class="t" font-size="10.4" textLength="16.8" lengthAdjust="spacingAndGlyphs" fill="#2a2a2a">1,000</text>
<text x="555.2" y="218.5" class="t" font-size="9.2" textLength="39.6" lengthAdjust="spacingAndGlyphs" fill="#2a2a2a">Energy [keV]</text>
<text transform="translate(374,120.7) rotate(-90)" x="0" y="0" class="t2" font-size="8" textLength="74.3" lengthAdjust="spacingAndGlyphs" fill="#2a2a2a">Intensity [Counts]</text>
<text x="526" y="25.7" class="ttl" fill="#000">PhODB</text></g>
<g><path d="M56.83 408.6v4M63.06 408.6v4M69.28 408.6v4M75.51 408.6v4M87.97 408.6v4M94.2 408.6v4M100.42 408.6v4M106.65 408.6v4M119.11 408.6v4M125.34 408.6v4M131.56 408.6v4M137.79 408.6v4M150.25 408.6v4M156.48 408.6v4M162.7 408.6v4M168.93 408.6v4M181.39 408.6v4M187.62 408.6v4M193.84 408.6v4M200.07 408.6v4M212.53 408.6v4M218.76 408.6v4M224.98 408.6v4M231.21 408.6v4M243.67 408.6v4M249.9 408.6v4M256.12 408.6v4M262.35 408.6v4M274.81 408.6v4M281.04 408.6v4M287.26 408.6v4M293.49 408.6v4M305.95 408.6v4M312.18 408.6v4M318.4 408.6v4M324.63 408.6v4M337.09 408.6v4M343.32 408.6v4M349.54 408.6v4M355.77 408.6v4" stroke="#505050" stroke-width="1" fill="none"/>
<path d="M81.74 408.6v11M112.88 408.6v11M144.02 408.6v11M175.16 408.6v11M206.3 408.6v11M237.44 408.6v11M268.58 408.6v11M299.72 408.6v11M330.86 408.6v11" stroke="#505050" stroke-width="1" fill="none"/>
<path d="M47.6 388.88h3M47.6 369.16h3M47.6 349.44h3M47.6 329.72h3M47.6 290.28h3M47.6 270.56h3M47.6 250.84h3M47.6 231.12h3" stroke="#505050" stroke-width="1" fill="none"/>
<path d="M45.1 310h5.5" stroke="#383838" stroke-width="1" fill="none"/>
<path d="M50.6 419.6V229.5" stroke="#a8a8a8" stroke-width="1.5" fill="none"/>
<path d="M362 419.6V229.5" stroke="#ababab" stroke-width="1.5" fill="none"/>
<path d="M50 229.5H362.6" stroke="#444" stroke-width="1.2" fill="none"/>
<path d="M42.6 408.6H362" stroke="#808080" stroke-width="1.4" fill="none"/>
<polyline points="50.6,408.6 50.76,408.5 50.91,408.57 51.07,408.6 51.22,408.49 51.38,408.6 51.53,408.4 51.69,408.33 51.85,408.37 52,408.22 52.16,408.33 52.31,408.24 52.47,408.48 52.62,407.91 52.78,407.89 52.94,407.51 53.09,407.11 53.25,406.71 53.4,407.22 53.56,406.94 53.71,406.08 53.87,405.39 54.03,405.14 54.18,404.53 54.34,403.95 54.49,404.1 54.65,404.09 54.8,404.42 54.96,404.01 55.12,403.55 55.27,402.85 55.43,402.68 55.58,402.59 55.74,402.43 55.89,401.52 56.05,401.49 56.21,401.04 56.36,400.64 56.52,400.89 56.67,400.88 56.83,399.39 56.98,399.16 57.14,399.41 57.3,399.41 57.45,397.31 57.61,399.64 57.76,399.34 57.92,399.16 58.07,400.49 58.23,399.83 58.38,398.9 58.54,399.91 58.7,400.49 58.85,400.87 59.01,401.54 59.16,401.19 59.32,402.27 59.47,402.68 59.63,402.45 59.79,401.99 59.94,402.51 60.1,402.41 60.25,404.49 60.41,402.27 60.56,401.54 60.72,402.32 60.88,403.51 61.03,403.89 61.19,403.08 61.34,403.91 61.5,402.6 61.65,403.37 61.81,402.12 61.97,401.64 62.12,403.99 62.28,402.1 62.43,402.72 62.59,403.18 62.74,402.6 62.9,402.36 63.06,401.54 63.21,403.52 63.37,401.64 63.52,400.84 63.68,401.63 63.83,401.07 63.99,400.42 64.15,399.6 64.3,395.73 64.46,392.19 64.61,386.93 64.77,378.87 64.92,372.16 65.08,362.43 65.24,349.69 65.39,339.46 65.55,325.32 65.7,310.23 65.86,296.79 66.01,282.77 66.17,273.89 66.33,264.16 66.48,260.94 66.64,262.32 66.79,268.08 66.95,274.59 67.1,285.05 67.26,300.03 67.42,312.37 67.57,326.31 67.73,340.67 67.88,352.15 68.04,363.78 68.19,375.07 68.35,381.95 68.51,388.69 68.66,391.97 68.82,396.18 68.97,396.8 69.13,398.37 69.28,398.45 69.44,399.37 69.6,400.13 69.75,397.23 69.91,398.1 70.06,396.19 70.22,396.04 70.37,394.8 70.53,392.6 70.69,392.14 70.84,389.32 71,389.22 71.15,384.52 71.31,382.28 71.46,378.82 71.62,375.28 71.78,371.73 71.93,367.74 72.09,368.65 72.24,365.63 72.4,365.96 72.55,364.97 72.71,368.07 72.87,369.88 73.02,373.9 73.18,376.75 73.33,380.45 73.49,385.59 73.64,389.01 73.8,393.59 73.95,395.22 74.11,397.31 74.27,400.41 74.42,400.73 74.58,404.29 74.73,404.9 74.89,405.14 75.04,404.98 75.2,404.97 75.36,405.21 75.51,405.33 75.67,404.95 75.82,405.63 75.98,406.07 76.13,406.06 76.29,404.23 76.45,406.65 76.6,405.45 76.76,404.55 76.91,405.07 77.07,405.78 77.22,405.31 77.38,404.82 77.54,404.62 77.69,405.77 77.85,404.84 78,405.11 78.16,404.62 78.31,404.45 78.47,405.4 78.63,406.01 78.78,404.96 78.94,404.18 79.09,404.78 79.25,405.02 79.4,403.78 79.56,405.71 79.72,404.6 79.87,405.42 80.03,405.06 80.18,405.02 80.34,404.2 80.49,405.59 80.65,405.34 80.81,405.94 80.96,404.73 81.12,405.27 81.27,404.75 81.43,405.6 81.58,405.17 81.74,404.35 81.9,405.04 82.05,404.56 82.21,404.61 82.36,405.11 82.52,405.8 82.67,404.3 82.83,404.77 82.99,404.28 83.14,406.03 83.3,405.8 83.45,406.08 83.61,405.32 83.76,404.17 83.92,404.44 84.08,404.79 84.23,404.68 84.39,404.29 84.54,404.91 84.7,404.48 84.85,404.62 85.01,406.01 85.17,404.91 85.32,403.85 85.48,404.89 85.63,404.73 85.79,405 85.94,404.91 86.1,403.92 86.26,404.76 86.41,405.2 86.57,406.47 86.72,404.91 86.88,405.75 87.03,405.65 87.19,404.03 87.35,404.07 87.5,405.68 87.66,403.96 87.81,404.19 87.97,404.94 88.12,404 88.28,405.46 88.44,405.2 88.59,405.34 88.75,405.13 88.9,403.89 89.06,405.26 89.21,405.15 89.37,405.02 89.53,404.3 89.68,404.63 89.84,403.88 89.99,404.86 90.15,405.22 90.3,404.72 90.46,404.38 90.61,404.99 90.77,404.23 90.93,403.27 91.08,404.76 91.24,404.37 91.39,403.55 91.55,404.79 91.7,404.92 91.86,405.07 92.02,404.13 92.17,404.06 92.33,404.47 92.48,404.35 92.64,403.57 92.79,403.82 92.95,405.24 93.11,404.37 93.26,404.29 93.42,403.91 93.57,404.5 93.73,404.76 93.88,404.64 94.04,405.46 94.2,404.36 94.35,404.72 94.51,404.04 94.66,404.98 94.82,404.61 94.97,404.95 95.13,405 95.29,403.88 95.44,404.62 95.6,404.04 95.75,405.02 95.91,404.25 96.06,405.38 96.22,404.61 96.38,404.62 96.53,403.93 96.69,404.19 96.84,404.41 97,403.76 97.15,404.17 97.31,403.95 97.47,403.77 97.62,404.27 97.78,404.38 97.93,403.95 98.09,404.4 98.24,403.85 98.4,403.35 98.56,403.48 98.71,404.26 98.87,404.82 99.02,403.98 99.18,404 99.33,403.15 99.49,404.11 99.65,403.96 99.8,403.3 99.96,404.08 100.11,403.83 100.27,402.53 100.42,402.65 100.58,403.2 100.74,403.42 100.89,404.23 101.05,403.15 101.2,403.47 101.36,403.32 101.51,403.8 101.67,403.42 101.83,403.51 101.98,403.13 102.14,402.31 102.29,403.03 102.45,404.43 102.6,403.91 102.76,404.32 102.92,403.73 103.07,402.73 103.23,402.81 103.38,403.5 103.54,402.84 103.69,403.55 103.85,404 104.01,403.96 104.16,403.54 104.32,401.84 104.47,403.83 104.63,401.9 104.78,401.8 104.94,402.89 105.09,402.76 105.25,403.19 105.41,402.78 105.56,402.29 105.72,402.79 105.87,402.09 106.03,401.97 106.18,402.61 106.34,402.64 106.5,402.94 106.65,402.67 106.81,403.75 106.96,402.66 107.12,402.83 107.27,403.62 107.43,401.46 107.59,403.74 107.74,403.68 107.9,402.88 108.05,404.49 108.21,403.68 108.36,404.23 108.52,403.85 108.68,403.27 108.83,402.97 108.99,402.43 109.14,402.66 109.3,402.42 109.45,402.86 109.61,403.62 109.77,402.53 109.92,403.68 110.08,403.78 110.23,402.3 110.39,402.84 110.54,403.26 110.7,402.91 110.86,402.84 111.01,404.41 111.17,403.56 111.32,404.32 111.48,403.45 111.63,404.01 111.79,402.64 111.95,403.23 112.1,404.16 112.26,403.64 112.41,404.47 112.57,403.64 112.72,403.32 112.88,403.53 113.04,405 113.19,403.92 113.35,403.33 113.5,403.46 113.66,402.87 113.81,404.52 113.97,403.28 114.13,404.07 114.28,403.49 114.44,403.33 114.59,403.13 114.75,403.99 114.9,403.45 115.06,404.37 115.22,404.53 115.37,403.17 115.53,403.58 115.68,404.65 115.84,404.11 115.99,403.5 116.15,402.43 116.31,402.77 116.46,402.93 116.62,404.71 116.77,403.53 116.93,403.12 117.08,403.17 117.24,403.14 117.4,403.59 117.55,402.19 117.71,402.37 117.86,403.46 118.02,404.07 118.17,401.93 118.33,403.75 118.49,402.51 118.64,401.99 118.8,403.98 118.95,403.09 119.11,403.52 119.26,402.88 119.42,402.99 119.58,401.79 119.73,402.7 119.89,403.07 120.04,402.18 120.2,403.12 120.35,403.09 120.51,401.05 120.66,403.2 120.82,402.82 120.98,402.27 121.13,402.94 121.29,403.57 121.44,401.04 121.6,402.27 121.75,401.94 121.91,401.68 122.07,402.03 122.22,402.02 122.38,401.06 122.53,399.38 122.69,400.65 122.84,400.7 123,402.48 123.16,401.48 123.31,402.48 123.47,401.16 123.62,402.07 123.78,402.03 123.93,402.29 124.09,402.82 124.25,403.66 124.4,402.24 124.56,403.82 124.71,403.77 124.87,403.22 125.02,403.6 125.18,402.97 125.34,402.5 125.49,403.1 125.65,403.18 125.8,403.33 125.96,402.78 126.11,404.69 126.27,403.16 126.43,404.08 126.58,404.3 126.74,403.44 126.89,403.71 127.05,403.02 127.2,402.63 127.36,404.99 127.52,403.34 127.67,401.79 127.83,402.42 127.98,401.79 128.14,402.5 128.29,403.29 128.45,402.58 128.61,400.58 128.76,399.6 128.92,399.87 129.07,398.28 129.23,396.35 129.38,396.07 129.54,392.8 129.7,388.68 129.85,385.25 130.01,383.75 130.16,378.39 130.32,376.26 130.47,372.08 130.63,368.65 130.79,360.91 130.94,357.14 131.1,349.62 131.25,346.71 131.41,342.32 131.56,340.21 131.72,333.31 131.88,332.31 132.03,329.95 132.19,330.77 132.34,327.07 132.5,327.47 132.65,330.46 132.81,331.91 132.97,334.53 133.12,337.55 133.28,342.54 133.43,345.52 133.59,352.24 133.74,357.54 133.9,362.39 134.06,369.11 134.21,372.26 134.37,375.12 134.52,379.84 134.68,384.43 134.83,386.77 134.99,391.53 135.15,392.61 135.3,394.03 135.46,395.59 135.61,398.06 135.77,397.8 135.92,397.84 136.08,400.1 136.23,399.54 136.39,401.43 136.55,401.76 136.7,399.75 136.86,400.03 137.01,399.72 137.17,400.1 137.32,399.66 137.48,398.62 137.64,397.76 137.79,399.11 137.95,400.13 138.1,397.9 138.26,398.46 138.41,398.52 138.57,399.08 138.73,397.7 138.88,399.68 139.04,399.68 139.19,401.81 139.35,401.23 139.5,401.69 139.66,401.58 139.82,401.67 139.97,402.85 140.13,401.34 140.28,403.72 140.44,403.54 140.59,403.31 140.75,404.54 140.91,403.51 141.06,403.64 141.22,404.38 141.37,403.1 141.53,404.35 141.68,404.31 141.84,405.14 142,405.63 142.15,405.03 142.31,404.88 142.46,404.99 142.62,404.28 142.77,406.19 142.93,405.46 143.09,405.88 143.24,404.02 143.4,405.16 143.55,405.15 143.71,405.51 143.86,404.34 144.02,405.12 144.18,404.75 144.33,406.08 144.49,404.2 144.64,404.66 144.8,404.57 144.95,404.17 145.11,405.01 145.27,405 145.42,404.48 145.58,404.65 145.73,405.05 145.89,404.88 146.04,405.2 146.2,404.49 146.36,404.36 146.51,404.91 146.67,403.81 146.82,405.82 146.98,405.06 147.13,403.92 147.29,405.17 147.45,405.86 147.6,404.11 147.76,404.61 147.91,405.63 148.07,404.48 148.22,405.53 148.38,405.72 148.54,405.03 148.69,405.22 148.85,405.58 149,405.16 149.16,405.53 149.31,404.91 149.47,404.96 149.63,404.52 149.78,405.22 149.94,405.73 150.09,405.73 150.25,405.1 150.4,404.07 150.56,404.47 150.72,405.34 150.87,404.42 151.03,405.64 151.18,404.38 151.34,405.2 151.49,404.53 151.65,404.62 151.8,405.14 151.96,404.79 152.12,405.6 152.27,405.03 152.43,404.36 152.58,402.61 152.74,404.58 152.89,404.94 153.05,405.58 153.21,404.38 153.36,405.96 153.52,405.47 153.67,404.79 153.83,405.7 153.98,404.11 154.14,404.38 154.3,405.34 154.45,405.33 154.61,405.78 154.76,405.83 154.92,404.76 155.07,404.66 155.23,404.82 155.39,404.87 155.54,405.35 155.7,404.82 155.85,405.88 156.01,405.03 156.16,404.18 156.32,404.27 156.48,405.3 156.63,405.23 156.79,404.25 156.94,404.01 157.1,405.91 157.25,405.29 157.41,404.91 157.57,404.35 157.72,405.54 157.88,404.69 158.03,405.23 158.19,403.69 158.34,404.81 158.5,405.14 158.66,405.26 158.81,404.46 158.97,404.68 159.12,405.69 159.28,404.95 159.43,405.84 159.59,405.51 159.75,405.82 159.9,405.84 160.06,405.48 160.21,405.65 160.37,404.78 160.52,404.63 160.68,405.23 160.84,405.73 160.99,404.63 161.15,406.25 161.3,406.2 161.46,404.68 161.61,404.73 161.77,404.55 161.93,405.23 162.08,405.83 162.24,405.4 162.39,404.79 162.55,405.55 162.7,405.52 162.86,405.91 163.02,405.78 163.17,404.64 163.33,404.86 163.48,405.79 163.64,405.74 163.79,405.45 163.95,404.82 164.11,405.8 164.26,405.23 164.42,406.36 164.57,405.85 164.73,404.9 164.88,404.63 165.04,405.8 165.2,405.59 165.35,404.7 165.51,405.37 165.66,405.46 165.82,404.86 165.97,405.05 166.13,404.53 166.29,404.71 166.44,405.49 166.6,405.23 166.75,405.2 166.91,405.94 167.06,405.72 167.22,404.62 167.38,406.07 167.53,404.61 167.69,405.02 167.84,405.26 168,404.88 168.15,404.91 168.31,404.5 168.46,405.41 168.62,405.32 168.78,405.33 168.93,404.13 169.09,404.66 169.24,405.72 169.4,405.39 169.55,405.6 169.71,405.19 169.87,405.08 170.02,403.91 170.18,406.23 170.33,404.63 170.49,404.97 170.64,405.61 170.8,405.3 170.96,405.5 171.11,405.19 171.27,404.66 171.42,406.07 171.58,404.49 171.73,405.44 171.89,404.39 172.05,405 172.2,404.54 172.36,404.92 172.51,404.63 172.67,405.21 172.82,405.7 172.98,404.86 173.14,404.84 173.29,404.07 173.45,406.37 173.6,405.36 173.76,404.66 173.91,405.95 174.07,405.38 174.23,404.07 174.38,404.47 174.54,405.75 174.69,404.47 174.85,404.6 175,404.83 175.16,405.05 175.32,405.13 175.47,405.75 175.63,405.55 175.78,404.86 175.94,405.19 176.09,404.24 176.25,405.45 176.41,406.6 176.56,405.45 176.72,405.11 176.87,405.05 177.03,405.23 177.18,405.72 177.34,404.43 177.5,405.63 177.65,404.87 177.81,405.42 177.96,405.93 178.12,404.48 178.27,406.66 178.43,405.74 178.59,405.02 178.74,405.46 178.9,404.84 179.05,405.32 179.21,405.51 179.36,404.06 179.52,405.38 179.68,405.35 179.83,405.86 179.99,405.68 180.14,404.9 180.3,404.95 180.45,405.26 180.61,405.65 180.77,404.88 180.92,406.21 181.08,405.45 181.23,405.4 181.39,405.73 181.54,405.17 181.7,405.63 181.86,405.7 182.01,404.26 182.17,404.85 182.32,404.59 182.48,405.23 182.63,404.72 182.79,404.82 182.94,404.58 183.1,403.94 183.26,405.38 183.41,405.11 183.57,405.28 183.72,407.21 183.88,406.03 184.03,405.24 184.19,404.9 184.35,405.57 184.5,404.62 184.66,404.54 184.81,405.48 184.97,404.46 185.12,404.28 185.28,404.99 185.44,405.8 185.59,404.43 185.75,405.34 185.9,405.46 186.06,405.18 186.21,405.55 186.37,404.65 186.53,404.82 186.68,404.57 186.84,404.93 186.99,405.69 187.15,405.34 187.3,404.76 187.46,405.47 187.62,403.63 187.77,405.38 187.93,405.57 188.08,404.61 188.24,404.83 188.39,405.26 188.55,405.38 188.71,405.01 188.86,404.78 189.02,404.82 189.17,405.42 189.33,405.01 189.48,404.78 189.64,404.82 189.8,406.96 189.95,405.74 190.11,405.68 190.26,405.38 190.42,405.15 190.57,404.74 190.73,404.9 190.89,405.32 191.04,405.23 191.2,404.27 191.35,405.59 191.51,405.08 191.66,404.38 191.82,405.06 191.98,406.38 192.13,405.04 192.29,405.46 192.44,405.31 192.6,404.66 192.75,404.99 192.91,405.39 193.07,404.75 193.22,405.01 193.38,405.19 193.53,405.08 193.69,405.11 193.84,405.44 194,405.5 194.16,405.23 194.31,405.78 194.47,405.95 194.62,404.53 194.78,405.38 194.93,405.26 195.09,405.32 195.25,405.23 195.4,405.23 195.56,405.21 195.71,405.69 195.87,404.73 196.02,405.63 196.18,404.67 196.34,406.31 196.49,405.84 196.65,404.7 196.8,405.33 196.96,405.62 197.11,405.04 197.27,405.83 197.43,405.2 197.58,406.48 197.74,405.5 197.89,405.61 198.05,404.95 198.2,404.76 198.36,405.72 198.51,404.35 198.67,405.58 198.83,406.39 198.98,406.57 199.14,404.39 199.29,405.3 199.45,405.61 199.6,405.66 199.76,405.85 199.92,404.5 200.07,405.29 200.23,404.25 200.38,405.36 200.54,406.55 200.69,404.78 200.85,405.45 201.01,405.38 201.16,404.38 201.32,405.39 201.47,404.6 201.63,405.25 201.78,405.67 201.94,404.97 202.1,405.58 202.25,404.57 202.41,404.71 202.56,405.21 202.72,404.91 202.87,404.93 203.03,405.4 203.19,404.75 203.34,405.37 203.5,404.91 203.65,405.78 203.81,405.19 203.96,405.02 204.12,405.69 204.28,405.48 204.43,405.54 204.59,404.84 204.74,405.65 204.9,405 205.05,404.4 205.21,405.05 205.37,406.14 205.52,405.17 205.68,404.67 205.83,405.4 205.99,404.63 206.14,404.9 206.3,405.01 206.46,405.39 206.61,405.53 206.77,405.39 206.92,405.21 207.08,404.95 207.23,405.01 207.39,405.41 207.55,405.21 207.7,405.03 207.86,406.14 208.01,405.67 208.17,405.68 208.32,405.35 208.48,405.39 208.64,405.38 208.79,405.73 208.95,404.87 209.1,405.09 209.26,406.15 209.41,405.23 209.57,405.87 209.73,404.29 209.88,405.49 210.04,405.46 210.19,405.19 210.35,405.35 210.5,405.27 210.66,404.38 210.82,405.11 210.97,404.77 211.13,404.61 211.28,405.78 211.44,404.3 211.59,404.86 211.75,404.71 211.91,405.72 212.06,404.78 212.22,405.01 212.37,405.54 212.53,403.97 212.68,404.92 212.84,405.37 213,405.13 213.15,404.73 213.31,404.61 213.46,404.91 213.62,404.56 213.77,404.42 213.93,405.92 214.08,405.51 214.24,405.76 214.4,405.18 214.55,404.44 214.71,404.87 214.86,405.82 215.02,405.4 215.17,404.67 215.33,405.53 215.49,405.29 215.64,405.07 215.8,406.25 215.95,404.8 216.11,405.05 216.26,404.92 216.42,405.78 216.58,405.66 216.73,405.57 216.89,405.1 217.04,405.2 217.2,405.17 217.35,404.24 217.51,404.51 217.67,405.64 217.82,405.6 217.98,404.28 218.13,405.41 218.29,404.47 218.44,404.35 218.6,405.54 218.76,405.39 218.91,405.19 219.07,405.72 219.22,405.78 219.38,405.46 219.53,404.76 219.69,405.49 219.85,405.35 220,405.49 220.16,405.99 220.31,404.41 220.47,406.54 220.62,405.6 220.78,404.93 220.94,406.01 221.09,404.9 221.25,404.54 221.4,405.71 221.56,405.12 221.71,405.85 221.87,404.96 222.03,405.19 222.18,405.12 222.34,404.48 222.49,404.98 222.65,404.49 222.8,404.88 222.96,405.9 223.12,405.09 223.27,404.96 223.43,406.04 223.58,404.5 223.74,405.2 223.89,405.03 224.05,405.73 224.21,405.2 224.36,405.07 224.52,405.42 224.67,405.19 224.83,406.41 224.98,404.48 225.14,405.86 225.3,406.45 225.45,405.77 225.61,405.7 225.76,404.93 225.92,405.74 226.07,405.08 226.23,405.77 226.39,404.01 226.54,404.93 226.7,404.14 226.85,405.79 227.01,404.86 227.16,405.75 227.32,404.9 227.48,404.83 227.63,406.1 227.79,405.83 227.94,405.84 228.1,406.02 228.25,405.58 228.41,405.69 228.57,405.95 228.72,405.05 228.88,404.77 229.03,405.8 229.19,405.34 229.34,404.97 229.5,405.07 229.65,405.29 229.81,404.35 229.97,404.26 230.12,404.28 230.28,404.73 230.43,403.3 230.59,403.34 230.74,404.57 230.9,404.28 231.06,403.32 231.21,404.48 231.37,403.56 231.52,403.66 231.68,404.02 231.83,403.55 231.99,404.35 232.15,403.48 232.3,404.38 232.46,401.1 232.61,401.51 232.77,401.58 232.92,402.13 233.08,401.48 233.24,401.16 233.39,401.25 233.55,401.23 233.7,402.52 233.86,401.45 234.01,402.13 234.17,402.58 234.33,402.55 234.48,401.38 234.64,400.94 234.79,402.8 234.95,400.53 235.1,400.82 235.26,402.29 235.42,402.46 235.57,402.28 235.73,401.63 235.88,402.78 236.04,403.46 236.19,402.53 236.35,404.44 236.51,402.99 236.66,402.43 236.82,403.19 236.97,403.01 237.13,403.36 237.28,403.35 237.44,403.87 237.6,404.63 237.75,404.36 237.91,404.38 238.06,403.66 238.22,403.55 238.37,404.38 238.53,405.17 238.69,405.22 238.84,404.97 239,404.11 239.15,404.78 239.31,405.05 239.46,405.5 239.62,404.6 239.78,404.97 239.93,405.19 240.09,405.13 240.24,404.27 240.4,405.32 240.55,404.31 240.71,404.57 240.87,405.24 241.02,404.79 241.18,405.36 241.33,405.75 241.49,405.45 241.64,405.81 241.8,405.03 241.96,405.3 242.11,404.99 242.27,404.85 242.42,407.01 242.58,405.11 242.73,406.26 242.89,405.14 243.05,405.68 243.2,405.07 243.36,404.28 243.51,405.95 243.67,404.72 243.82,404.72 243.98,405.63 244.14,403.78 244.29,403.83 244.45,403.79 244.6,403.44 244.76,399.87 244.91,401.77 245.07,401.88 245.22,400.08 245.38,398.29 245.54,396.69 245.69,394.56 245.85,393.13 246,389.34 246.16,387.26 246.31,384.7 246.47,380.58 246.63,376.11 246.78,370.52 246.94,365.87 247.09,361.25 247.25,355.18 247.4,348.89 247.56,340.69 247.72,336.68 247.87,328.75 248.03,321.55 248.18,316.46 248.34,308.4 248.49,301.82 248.65,296.27 248.81,289.18 248.96,283.27 249.12,278.42 249.27,276.07 249.43,272.4 249.58,267.32 249.74,270.31 249.9,268.15 250.05,267.77 250.21,270.14 250.36,271.83 250.52,275.63 250.67,278.91 250.83,282.99 250.99,290.16 251.14,295.54 251.3,302.12 251.45,309.12 251.61,315.5 251.76,323.6 251.92,328.54 252.08,334.42 252.23,341.11 252.39,347.97 252.54,356.2 252.7,359.66 252.85,367.05 253.01,371.42 253.17,374.34 253.32,380.92 253.48,383.03 253.63,386.78 253.79,390.04 253.94,393.14 254.1,394.34 254.26,396.92 254.41,397.39 254.57,398.63 254.72,401.74 254.88,402.04 255.03,402.7 255.19,403.96 255.35,404.4 255.5,404.01 255.66,404.54 255.81,405.68 255.97,405.22 256.12,404.78 256.28,405.88 256.44,405.82 256.59,404.53 256.75,404.74 256.9,406.36 257.06,406.25 257.21,405.36 257.37,406.21 257.53,405.73 257.68,405.85 257.84,405.33 257.99,406.95 258.15,406.78 258.3,406.28 258.46,405.12 258.62,405.73 258.77,406.54 258.93,405.4 259.08,405.29 259.24,405.79 259.39,405.84 259.55,405.44 259.71,405.04 259.86,405.59 260.02,405.4 260.17,405.7 260.33,405.88 260.48,406.16 260.64,405.56 260.8,405.85 260.95,405.82 261.11,405.22 261.26,405.45 261.42,405.25 261.57,406.52 261.73,405.42 261.88,406.01 262.04,406.13 262.2,406.15 262.35,405.09 262.51,405.29 262.66,406.08 262.82,406.3 262.97,405.71 263.13,405.95 263.29,404.85 263.44,406.45 263.6,406.63 263.75,405.8 263.91,405.65 264.06,405.56 264.22,405.2 264.38,404.46 264.53,405.69 264.69,405.73 264.84,406.32 265,405.13 265.15,404.68 265.31,405.17 265.47,404.17 265.62,404.66 265.78,403.52 265.93,403.99 266.09,404.62 266.24,404.02 266.4,404.31 266.56,404.08 266.71,402.15 266.87,401.19 267.02,399.83 267.18,400.74 267.33,400.24 267.49,400.22 267.65,397.92 267.8,397.64 267.96,397.63 268.11,395.87 268.27,395.18 268.42,396.29 268.58,393.51 268.74,393.25 268.89,392.98 269.05,392.37 269.2,390.09 269.36,389.75 269.51,389.1 269.67,391.12 269.83,390.49 269.98,389.11 270.14,390.75 270.29,390.42 270.45,391.45 270.6,388.81 270.76,389.8 270.92,390.72 271.07,391.44 271.23,392.54 271.38,393.18 271.54,393.09 271.69,394.87 271.85,394.14 272.01,396.26 272.16,397.35 272.32,396.47 272.47,398.35 272.63,398.58 272.78,400.04 272.94,402.11 273.1,400.66 273.25,402.68 273.41,401.44 273.56,403.91 273.72,404.55 273.87,403.46 274.03,403.77 274.19,404.32 274.34,405.42 274.5,404.45 274.65,406.01 274.81,405.65 274.96,405.98 275.12,405.91 275.28,405.42 275.43,406.27 275.59,405.77 275.74,405.79 275.9,406.99 276.05,406.79 276.21,406.47 276.37,406.6 276.52,406.23 276.68,407.26 276.83,406.1 276.99,406.11 277.14,406.54 277.3,407.09 277.45,406.5 277.61,406.75 277.77,406.28 277.92,406.58 278.08,406.24 278.23,406.76 278.39,405.96 278.54,407.58 278.7,407.04 278.86,406.41 279.01,407.27 279.17,406.33 279.32,407.17 279.48,406.63 279.63,407.06 279.79,406.87 279.95,406.63 280.1,406.76 280.26,406.88 280.41,405.85 280.57,406.75 280.72,407.16 280.88,406.4 281.04,406.45 281.19,406.3 281.35,406.09 281.5,407.2 281.66,406.41 281.81,406.39 281.97,406.86 282.13,406.77 282.28,408.07 282.44,407.12 282.59,406.2 282.75,407.61 282.9,407.14 283.06,406.83 283.22,406.73 283.37,406.33 283.53,407.65 283.68,406.97 283.84,406.67 283.99,407.51 284.15,407.04 284.31,406.31 284.46,406.53 284.62,406.82 284.77,408.02 284.93,407.08 285.08,406.89 285.24,407.15 285.4,407.06 285.55,405.88 285.71,407.12 285.86,407.41 286.02,406.95 286.17,407.17 286.33,407.17 286.49,407.08 286.64,406.76 286.8,406.97 286.95,407.51 287.11,407.11 287.26,406.88 287.42,407.24 287.58,406.64 287.73,406.78 287.89,407.44 288.04,406.95 288.2,406.34 288.35,406.5 288.51,407.1 288.67,406.75 288.82,407.33 288.98,407.62 289.13,406.88 289.29,407 289.44,406.9 289.6,407.1 289.76,406.97 289.91,407.28 290.07,406.92 290.22,406.79 290.38,407.12 290.53,406.8 290.69,407.76 290.85,407.4 291,406.58 291.16,406.46 291.31,407.02 291.47,407.15 291.62,407.58 291.78,406.99 291.94,406.84 292.09,407.66 292.25,406.92 292.4,406.95 292.56,406.97 292.71,407.54 292.87,406.94 293.02,407.68 293.18,406.6 293.34,407.09 293.49,407.56 293.65,406.65 293.8,406.73 293.96,407.38 294.11,406.35 294.27,407.51 294.43,407.04 294.58,406.73 294.74,407.98 294.89,406.8 295.05,407.18 295.2,407.17 295.36,407.55 295.52,407.05 295.67,407.57 295.83,407.52 295.98,407.33 296.14,407.62 296.29,406.61 296.45,407.65 296.61,407.45 296.76,407.3 296.92,407.18 297.07,406.9 297.23,406.9 297.38,407.3 297.54,407.33 297.7,407.18 297.85,406.9 298.01,406.95 298.16,407.38 298.32,407.93 298.47,406.44 298.63,406.87 298.79,407.11 298.94,407.09 299.1,407.4 299.25,407.57 299.41,407.33 299.56,407.3 299.72,407.44 299.88,407.74 300.03,407.33 300.19,407.02 300.34,407.4 300.5,407.22 300.65,407.96 300.81,407.3 300.97,407.27 301.12,407.66 301.28,407.84 301.43,407.09 301.59,407.52 301.74,407.06 301.9,407.38 302.06,407.02 302.21,407.35 302.37,407.77 302.52,407.27 302.68,407.35 302.83,407.01 302.99,407.4 303.15,407.38 303.3,406.94 303.46,406.83 303.61,406.98 303.77,406.88 303.92,407.09 304.08,406.98 304.24,406.94 304.39,407.11 304.55,407.23 304.7,407.2 304.86,406.41 305.01,407.25 305.17,407.34 305.33,407.38 305.48,407.27 305.64,407.17 305.79,407.65 305.95,407.95 306.1,407.16 306.26,407.82 306.42,407.17 306.57,407.21 306.73,406.86 306.88,406.68 307.04,407.14 307.19,407.46 307.35,407.68 307.5,407.54 307.66,407.26 307.82,407.99 307.97,407.25 308.13,407.28 308.28,407.05 308.44,407.39 308.59,407.24 308.75,407.53 308.91,407.44 309.06,407.89 309.22,407.24 309.37,406.75 309.53,407.23 309.68,407.16 309.84,407.62 310,406.79 310.15,407.55 310.31,407.01 310.46,407.25 310.62,407.62 310.77,406.94 310.93,407.29 311.09,407.23 311.24,407.14 311.4,407.3 311.55,407.42 311.71,407.14 311.86,407.44 312.02,407.28 312.18,407.53 312.33,407.81 312.49,407.53 312.64,407.47 312.8,407.3 312.95,406.9 313.11,407.88 313.27,407.26 313.42,408.06 313.58,407.66 313.73,407.48 313.89,408.08 314.04,407.94 314.2,407.26 314.36,407.29 314.51,407.35 314.67,407.59 314.82,406.58 314.98,407.37 315.13,407.61 315.29,406.75 315.45,407.11 315.6,407.45 315.76,406.92 315.91,407.27 316.07,407.1 316.22,407.24 316.38,407.67 316.54,407 316.69,407.27 316.85,407.67 317,407.59 317.16,407.01 317.31,407.46 317.47,407.32 317.63,407.11 317.78,407.29 317.94,407.85 318.09,407.12 318.25,407.02 318.4,407.05 318.56,406.79 318.72,407.22 318.87,407.08 319.03,406.81 319.18,407.44 319.34,406.76 319.49,406.76 319.65,407.08 319.81,406.73 319.96,407.06 320.12,407.64 320.27,406.97 320.43,407.24 320.58,407.21 320.74,407.3 320.9,406.9 321.05,407.17 321.21,407.59 321.36,407.19 321.52,407.11 321.67,407.6 321.83,407.5 321.99,407.49 322.14,407.56 322.3,407.25 322.45,407.02 322.61,406.73 322.76,406.97 322.92,407.03 323.07,406.99 323.23,406.92 323.39,407.5 323.54,407.14 323.7,407.26 323.85,407.42 324.01,407.52 324.16,407.54 324.32,407.46 324.48,407.79 324.63,407.2 324.79,407.39 324.94,407.34 325.1,407.27 325.25,407.14 325.41,407.58 325.57,407.42 325.72,407.92 325.88,408.12 326.03,408.03 326.19,406.88 326.34,407.99 326.5,407.23 326.66,406.9 326.81,407.54 326.97,406.85 327.12,406.78 327.28,407.08 327.43,406.61 327.59,407.19 327.75,407.64 327.9,407.23 328.06,407.54 328.21,407.83 328.37,407.82 328.52,406.64 328.68,407.58 328.84,407.41 328.99,407.62 329.15,407.36 329.3,407.48 329.46,407.54 329.61,407.8 329.77,407.87 329.93,407.65 330.08,407.31 330.24,406.73 330.39,407.07 330.55,406.81 330.7,407.25 330.86,407.44 331.02,407.84 331.17,407.41 331.33,408.11 331.48,407.51 331.64,406.88 331.79,407.3 331.95,407.04 332.11,407.54 332.26,407.86 332.42,407.57 332.57,407.54 332.73,407.02 332.88,406.76 333.04,407.65 333.2,407.53 333.35,407.46 333.51,407.52 333.66,407.82 333.82,407.38 333.97,407.29 334.13,407.28 334.29,407.8 334.44,407.45 334.6,407.98 334.75,407.11 334.91,407.74 335.06,407.5 335.22,407.55 335.38,407.6 335.53,407.75 335.69,407.99 335.84,406.84 336,407.32 336.15,407.32 336.31,406.72 336.47,407.44 336.62,407.23 336.78,407.4 336.93,407.02 337.09,407.24 337.24,407.3 337.4,407.49 337.56,407.32 337.71,407.03 337.87,408.09 338.02,407.45 338.18,407.54 338.33,407.5 338.49,408.05 338.64,407.17 338.8,407.68 338.96,407.48 339.11,407.57 339.27,407.95 339.42,407.55 339.58,408.01 339.73,407.71 339.89,407.51 340.05,407.41 340.2,407.39 340.36,407.45 340.51,406.71 340.67,407.26 340.82,407.81 340.98,407.61 341.14,407.62 341.29,407.46 341.45,407.6 341.6,407.69 341.76,406.87 341.91,407.39 342.07,407.52 342.23,407.49 342.38,407.48 342.54,406.95 342.69,407.25 342.85,407.04 343,408.42 343.16,407.3 343.32,407.06 343.47,406.76 343.63,407.4 343.78,407.97 343.94,407.21 344.09,407.6 344.25,407.99 344.41,407.61 344.56,407.06 344.72,407.01 344.87,407.17 345.03,407.75 345.18,406.58 345.34,407.79 345.5,407.43 345.65,407.88 345.81,406.97 345.96,407.26 346.12,407.11 346.27,407.37 346.43,407.43 346.59,407.35 346.74,408.02 346.9,407.08 347.05,407.11 347.21,407.53 347.36,407.41 347.52,407.31 347.68,406.89 347.83,407.26 347.99,407.39 348.14,407.57 348.3,407.89 348.45,407.6 348.61,407.38 348.77,407.49 348.92,407.38 349.08,407.16 349.23,407.26 349.39,407.31 349.54,407.19 349.7,407.34 349.86,407.41 350.01,407.25 350.17,407.97 350.32,406.99 350.48,407.82 350.63,407.13 350.79,407.4 350.95,407.04 351.1,407.39 351.26,407.71 351.41,407.05 351.57,407.34 351.72,407.36 351.88,407.37 352.04,407.07 352.19,407.13 352.35,407.33 352.5,407.91 352.66,407.53 352.81,407.37 352.97,406.81 353.13,407.27 353.28,407.43 353.44,407.01 353.59,407.44 353.75,407.41 353.9,407.35 354.06,407.89 354.21,407.09 354.37,407.26 354.53,407.49 354.68,407.77 354.84,407.33 354.99,406.94 355.15,407.61 355.3,407.75 355.46,407.26 355.62,407.92 355.77,408.12 355.93,407.54 356.08,407.62 356.24,407.49 356.39,407.58 356.55,407.29 356.71,407.47 356.86,407.59 357.02,407.55 357.17,407.19 357.33,407.08 357.48,407.1 357.64,407.17 357.8,408.48 357.95,407.73 358.11,407.5 358.26,407.33 358.42,407.93 358.57,406.93 358.73,407.3 358.89,407.6 359.04,407.34 359.2,407.51 359.35,407.65 359.51,407.23 359.66,407.55 359.82,407.86 359.98,407.6 360.13,407.43 360.29,407.75 360.44,406.98 360.6,407.75 360.75,406.82 360.91,407.1 361.07,407.7 361.22,407.35 361.38,407.01 361.53,407.46 361.69,407.79 361.84,407.36 362,406.75" fill="none" stroke="#ff2d2d" stroke-width="0.9" stroke-linejoin="round"/>
<path d="M72.9 361.3V364" stroke="#909090" stroke-width="1" fill="none"/>
<path d="M62.4 378.7V400" stroke="#909090" stroke-width="1" fill="none"/>
<path d="M59.45 395.3V399.5" stroke="#909090" stroke-width="1" fill="none"/>
<path d="M122.5 395.7V401.4" stroke="#909090" stroke-width="1" fill="none"/>
<path d="M249.95 263.7V268.4" stroke="#909090" stroke-width="1" fill="none"/>
<path d="M270.4 381.9V389" stroke="#909090" stroke-width="1" fill="none"/>
<rect x="62.5" y="246.6" width="8.6" height="16.5" fill="#d9d9d9" fill-opacity="0.85" stroke="#b0b0b0" stroke-width="0.9"/>
<text x="64.3" y="258.55" class="tb" font-size="10.4" textLength="5.0" lengthAdjust="spacingAndGlyphs" fill="#1a1a1a">O</text>
<rect x="67.8" y="344.9" width="10.2" height="15.9" fill="#d9d9d9" fill-opacity="0.85" stroke="#b0b0b0" stroke-width="0.9"/>
<text x="69.4" y="356.35" class="tb" font-size="10.1" textLength="7.0" lengthAdjust="spacingAndGlyphs" fill="#1a1a1a">Fe</text>
<rect x="58" y="362.6" width="8.8" height="15.6" fill="#d9d9d9" fill-opacity="0.85" stroke="#b0b0b0" stroke-width="0.9"/>
<text x="59.9" y="374.1" class="tb" font-size="10.4" textLength="5.0" lengthAdjust="spacingAndGlyphs" fill="#1a1a1a">N</text>
<rect x="55.6" y="380" width="7.7" height="14.8" fill="#d9d9d9" fill-opacity="0.85" stroke="#b0b0b0" stroke-width="0.9"/>
<text x="57.25" y="391.1" class="tb" font-size="10.4" textLength="4.4" lengthAdjust="spacingAndGlyphs" fill="#1a1a1a">C</text>
<rect x="118.8" y="378.6" width="7.4" height="16.6" fill="#d9d9d9" fill-opacity="0.85" stroke="#b0b0b0" stroke-width="0.9"/>
<text x="120.5" y="390.6" class="tb" font-size="10.4" textLength="4.0" lengthAdjust="spacingAndGlyphs" fill="#1a1a1a">S</text>
<rect x="244.7" y="246.7" width="10.5" height="16.5" fill="#d9d9d9" fill-opacity="0.85" stroke="#b0b0b0" stroke-width="0.9"/>
<text x="246.45" y="258.45" class="tb" font-size="10.1" textLength="7.0" lengthAdjust="spacingAndGlyphs" fill="#1a1a1a">Fe</text>
<rect x="264.8" y="365.5" width="11.2" height="15.9" fill="#d9d9d9" fill-opacity="0.85" stroke="#b0b0b0" stroke-width="0.9"/>
<text x="266.9" y="376.95" class="tb" font-size="10.1" textLength="7.0" lengthAdjust="spacingAndGlyphs" fill="#1a1a1a">Fe</text>
<text x="48.55" y="433.9" class="t" font-size="10.2" textLength="4.1" lengthAdjust="spacingAndGlyphs" fill="#2a2a2a">0</text>
<text x="79.69" y="433.9" class="t" font-size="10.2" textLength="4.1" lengthAdjust="spacingAndGlyphs" fill="#2a2a2a">1</text>
<text x="110.83" y="433.9" class="t" font-size="10.2" textLength="4.1" lengthAdjust="spacingAndGlyphs" fill="#2a2a2a">2</text>
<text x="141.97" y="433.9" class="t" font-size="10.2" textLength="4.1" lengthAdjust="spacingAndGlyphs" fill="#2a2a2a">3</text>
<text x="173.11" y="433.9" class="t" font-size="10.2" textLength="4.1" lengthAdjust="spacingAndGlyphs" fill="#2a2a2a">4</text>
<text x="204.25" y="433.9" class="t" font-size="10.2" textLength="4.1" lengthAdjust="spacingAndGlyphs" fill="#2a2a2a">5</text>
<text x="235.39" y="433.9" class="t" font-size="10.2" textLength="4.1" lengthAdjust="spacingAndGlyphs" fill="#2a2a2a">6</text>
<text x="266.53" y="433.9" class="t" font-size="10.2" textLength="4.1" lengthAdjust="spacingAndGlyphs" fill="#2a2a2a">7</text>
<text x="297.67" y="433.9" class="t" font-size="10.2" textLength="4.1" lengthAdjust="spacingAndGlyphs" fill="#2a2a2a">8</text>
<text x="328.81" y="433.9" class="t" font-size="10.2" textLength="4.1" lengthAdjust="spacingAndGlyphs" fill="#2a2a2a">9</text>
<text x="358" y="433.9" class="t" font-size="10.2" textLength="8.0" lengthAdjust="spacingAndGlyphs" fill="#2a2a2a">10</text>
<text x="34.9" y="412.8" class="t" font-size="10.4" textLength="3.8" lengthAdjust="spacingAndGlyphs" fill="#2a2a2a">0</text>
<text x="27.5" y="314.2" class="t" font-size="10.4" textLength="11.2" lengthAdjust="spacingAndGlyphs" fill="#2a2a2a">500</text>
<text x="187.1" y="446.9" class="t" font-size="9.2" textLength="38.4" lengthAdjust="spacingAndGlyphs" fill="#2a2a2a">Energy [keV]</text>
<text transform="translate(10.5,349.6) rotate(-90)" x="0" y="0" class="t2" font-size="8" textLength="75.1" lengthAdjust="spacingAndGlyphs" fill="#2a2a2a">Intensity [Counts]</text>
<text x="165.4" y="261.2" class="ttl" fill="#000">BODB</text></g>
<g><path d="M428.7 407.1v4M434.9 407.1v4M441.09 407.1v4M447.29 407.1v4M459.69 407.1v4M465.89 407.1v4M472.08 407.1v4M478.28 407.1v4M490.68 407.1v4M496.88 407.1v4M503.07 407.1v4M509.27 407.1v4M521.67 407.1v4M527.87 407.1v4M534.06 407.1v4M540.26 407.1v4M552.66 407.1v4M558.86 407.1v4M565.05 407.1v4M571.25 407.1v4M583.65 407.1v4M589.85 407.1v4M596.04 407.1v4M602.24 407.1v4M614.64 407.1v4M620.84 407.1v4M627.03 407.1v4M633.23 407.1v4M645.63 407.1v4M651.83 407.1v4M658.02 407.1v4M664.22 407.1v4M676.62 407.1v4M682.82 407.1v4M689.01 407.1v4M695.21 407.1v4M707.61 407.1v4M713.81 407.1v4M720 407.1v4M726.2 407.1v4" stroke="#505050" stroke-width="1" fill="none"/>
<path d="M453.49 407.1v11M484.48 407.1v11M515.47 407.1v11M546.46 407.1v11M577.45 407.1v11M608.44 407.1v11M639.43 407.1v11M670.42 407.1v11M701.41 407.1v11" stroke="#505050" stroke-width="1" fill="none"/>
<path d="M419.5 386.78h3M419.5 366.46h3M419.5 346.14h3M419.5 325.82h3M419.5 285.18h3M419.5 264.86h3M419.5 244.54h3" stroke="#505050" stroke-width="1" fill="none"/>
<path d="M417 305.5h5.5" stroke="#383838" stroke-width="1" fill="none"/>
<path d="M422.5 418.1V228.3" stroke="#8a8a8a" stroke-width="1.2" fill="none"/>
<path d="M732.4 418.1V228.3" stroke="#6a6a6a" stroke-width="1.1" fill="none"/>
<path d="M421.9 228.3H733" stroke="#888" stroke-width="1.3" fill="none"/>
<path d="M414.5 407.5H732.4" stroke="#383838" stroke-width="1.1" fill="none"/>
<polyline points="422.5,407.1 422.65,406.99 422.81,406.96 422.96,406.9 423.12,406.88 423.27,406.8 423.43,406.49 423.58,406.49 423.74,406.76 423.89,406.12 424.05,406.72 424.2,406.17 424.36,406.22 424.51,405.63 424.67,405.6 424.82,405.05 424.98,405.18 425.13,404.48 425.29,404.47 425.44,403.3 425.6,404.44 425.75,403.17 425.91,403.28 426.06,403.16 426.22,403.33 426.37,402.74 426.53,403.92 426.68,403.87 426.84,402.61 426.99,403.95 427.15,402.06 427.3,402.95 427.46,402.34 427.61,401.97 427.77,400.96 427.92,400.33 428.08,398.72 428.23,396.18 428.39,392.08 428.54,387.85 428.7,382.56 428.85,377.15 429.01,370.63 429.16,364.38 429.32,354.51 429.47,346.86 429.63,341.49 429.78,335.12 429.94,331.33 430.09,331.43 430.25,331.62 430.4,335.73 430.56,342.96 430.71,348.34 430.87,355.77 431.02,362.73 431.18,371.58 431.33,378.24 431.49,384.82 431.64,389.22 431.8,393.21 431.95,395.57 432.11,397.81 432.26,399.56 432.42,400.09 432.57,400.24 432.73,399.92 432.88,398.34 433.04,400.86 433.19,398.76 433.35,398.31 433.5,397.93 433.66,400.14 433.81,399.83 433.97,400.33 434.12,402.16 434.28,403.85 434.43,403.5 434.59,404.44 434.74,403.81 434.9,404.79 435.05,403.64 435.21,404.48 435.36,404.95 435.52,404.8 435.67,405.04 435.83,404.22 435.98,403.45 436.14,403.92 436.29,402.56 436.45,402.6 436.6,399.93 436.76,395.76 436.91,394.91 437.07,388.08 437.22,382.36 437.38,378.48 437.53,371.62 437.69,365.29 437.84,358.93 438,357.56 438.15,357.03 438.3,358.31 438.46,362.98 438.61,368.45 438.77,375.13 438.92,380.05 439.08,387.02 439.23,389.41 439.39,394.04 439.54,396.21 439.7,395.83 439.85,395.83 440.01,396.91 440.16,394.02 440.32,393.85 440.47,392.03 440.63,389.48 440.78,389.75 440.94,388.09 441.09,388.35 441.25,386.54 441.4,388.47 441.56,389.78 441.71,390.12 441.87,390.04 442.02,388.73 442.18,387.5 442.33,384.35 442.49,381.52 442.64,377.06 442.8,371.64 442.95,366.49 443.11,360.86 443.26,356.1 443.42,353.31 443.57,353.7 443.73,356.1 443.88,358.44 444.04,362.31 444.19,370.67 444.35,375.29 444.5,380.8 444.66,387.35 444.81,392.65 444.97,394.34 445.12,397.6 445.28,400.96 445.43,401.34 445.59,402.38 445.74,404.35 445.9,402.68 446.05,404.72 446.21,404.48 446.36,404.93 446.52,404.39 446.67,405.07 446.83,404.44 446.98,403.91 447.14,404.33 447.29,404.56 447.45,403.65 447.6,404.81 447.76,403.86 447.91,404.46 448.07,404.17 448.22,404.23 448.38,404.15 448.53,404.22 448.69,404.56 448.84,404.42 449,403.87 449.15,404.12 449.31,404.64 449.46,404.38 449.62,404.34 449.77,403.98 449.93,403.82 450.08,403.84 450.24,404.21 450.39,403.82 450.55,404.54 450.7,405.33 450.86,403.76 451.01,404.61 451.17,404.2 451.32,404.31 451.48,403.26 451.63,404.26 451.79,403.4 451.94,403.8 452.1,404.2 452.25,404.36 452.41,403.17 452.56,403.18 452.72,402.93 452.87,402.29 453.03,403.16 453.18,403.12 453.34,403.33 453.49,403.16 453.64,403.43 453.8,403.74 453.95,402.03 454.11,404.3 454.26,403.05 454.42,402.93 454.57,403.1 454.73,403.75 454.88,403.29 455.04,403.44 455.19,403.8 455.35,403.19 455.5,403.4 455.66,403.48 455.81,402.74 455.97,403.77 456.12,402.87 456.28,403.49 456.43,402.87 456.59,403.07 456.74,402.97 456.9,403.69 457.05,403.56 457.21,403.61 457.36,402.98 457.52,402.63 457.67,402.43 457.83,403.37 457.98,403.01 458.14,404.03 458.29,404.39 458.45,403.57 458.6,403.44 458.76,403.97 458.91,404.1 459.07,402.7 459.22,403.51 459.38,404.03 459.53,401.6 459.69,402.9 459.84,403.19 460,402.58 460.15,403.45 460.31,402.02 460.46,403.91 460.62,403.77 460.77,403.05 460.93,403.43 461.08,402.09 461.24,403.93 461.39,403.39 461.55,402.79 461.7,402.59 461.86,402.31 462.01,402.71 462.17,401.56 462.32,403.2 462.48,402.8 462.63,402.37 462.79,403.09 462.94,403.07 463.1,403.17 463.25,403.27 463.41,403.57 463.56,403.21 463.72,403.82 463.87,402.62 464.03,403.83 464.18,401.57 464.34,401.78 464.49,402.15 464.65,402.96 464.8,403.18 464.96,402.05 465.11,402.7 465.27,402.46 465.42,403.24 465.58,402.13 465.73,403.28 465.89,402.71 466.04,403.85 466.2,403.18 466.35,402.45 466.51,403.04 466.66,403.03 466.82,402.25 466.97,402.79 467.13,401.96 467.28,404.24 467.44,402.37 467.59,402.4 467.75,403.68 467.9,403.52 468.06,402.15 468.21,403.36 468.37,403.09 468.52,402.3 468.68,402.88 468.83,402.37 468.99,403.21 469.14,402.43 469.29,401.89 469.45,402.33 469.6,403.91 469.76,402.03 469.91,402.37 470.07,402.96 470.22,401.41 470.38,403.42 470.53,400.98 470.69,402.59 470.84,401.06 471,402.08 471.15,402.89 471.31,401.85 471.46,401.61 471.62,401.37 471.77,400.9 471.93,402.17 472.08,401.06 472.24,400.75 472.39,401.33 472.55,401.66 472.7,401.5 472.86,400.04 473.01,399.8 473.17,400.79 473.32,400.95 473.48,398.79 473.63,400.64 473.79,399.12 473.94,399.61 474.1,400.1 474.25,398.48 474.41,398.52 474.56,397.12 474.72,396.35 474.87,398.08 475.03,397.08 475.18,397.01 475.34,398.24 475.49,398.57 475.65,396.82 475.8,398.44 475.96,398.35 476.11,398.73 476.27,398.81 476.42,399.38 476.58,398.59 476.73,398.44 476.89,399.88 477.04,400.86 477.2,400.01 477.35,401.36 477.51,400.92 477.66,399.72 477.82,399.08 477.97,400.67 478.13,401.88 478.28,400.65 478.44,402.95 478.59,401.92 478.75,400.43 478.9,401.07 479.06,402.63 479.21,402.88 479.37,401.19 479.52,401.86 479.68,402.29 479.83,401.64 479.99,402.35 480.14,403.3 480.3,401.49 480.45,402.5 480.61,402.77 480.76,403.03 480.92,402 481.07,402.73 481.23,401.81 481.38,402.44 481.54,401.54 481.69,402.51 481.85,402.68 482,403.55 482.16,402.97 482.31,401.76 482.47,400.21 482.62,403.06 482.78,402.92 482.93,402 483.09,401.91 483.24,402.67 483.4,402.16 483.55,403.28 483.71,402.41 483.86,401.61 484.02,401.12 484.17,402.31 484.33,402.37 484.48,401.89 484.63,401.45 484.79,401.86 484.94,402.68 485.1,401.94 485.25,401.53 485.41,402.65 485.56,403.06 485.72,401.83 485.87,401.92 486.03,401.51 486.18,402.1 486.34,402.58 486.49,402.44 486.65,402.83 486.8,402.77 486.96,402.51 487.11,402.46 487.27,401.38 487.42,402.95 487.58,402.15 487.73,402.51 487.89,401.12 488.04,401.94 488.2,402.36 488.35,401.56 488.51,402.06 488.66,402.41 488.82,401.06 488.97,401.61 489.13,400.91 489.28,401.29 489.44,401.53 489.59,401.94 489.75,402.74 489.9,401.49 490.06,401.87 490.21,401.38 490.37,401.76 490.52,402.11 490.68,402.18 490.83,400.74 490.99,400.01 491.14,400.83 491.3,399.85 491.45,398.64 491.61,399.68 491.76,398.59 491.92,398.36 492.07,395.72 492.23,395.42 492.38,394.93 492.54,394.77 492.69,392.55 492.85,390.59 493,390.62 493.16,389.86 493.31,388.3 493.47,389.25 493.62,387.9 493.78,387.35 493.93,388.56 494.09,388.93 494.24,388.61 494.4,389.6 494.55,390.57 494.71,391.2 494.86,392.24 495.02,394.2 495.17,395.08 495.33,395.27 495.48,395.75 495.64,396.47 495.79,398.93 495.95,398.17 496.1,399.01 496.26,400.07 496.41,400.06 496.57,400.07 496.72,399.54 496.88,401.73 497.03,400.51 497.19,401.01 497.34,400.96 497.5,399.82 497.65,399.9 497.81,401.1 497.96,400.42 498.12,399.93 498.27,401.07 498.43,399.36 498.58,400.09 498.74,400 498.89,400 499.05,399.08 499.2,400.58 499.36,401.07 499.51,399.73 499.67,401.57 499.82,401.75 499.98,402.5 500.13,400.89 500.28,401.55 500.44,401.48 500.59,401.72 500.75,401.94 500.9,402.36 501.06,402.31 501.21,401.39 501.37,401.49 501.52,400.26 501.68,401.79 501.83,401.4 501.99,401.56 502.14,399.54 502.3,401.23 502.45,399.52 502.61,398.82 502.76,399.84 502.92,399.1 503.07,401.18 503.23,399.92 503.38,400.96 503.54,399.76 503.69,400.08 503.85,400.89 504,399.86 504.16,400.54 504.31,401.42 504.47,401.62 504.62,402.48 504.78,401.71 504.93,400.24 505.09,402.29 505.24,401.59 505.4,402.3 505.55,401.43 505.71,401.7 505.86,402.16 506.02,403.21 506.17,402.36 506.33,401.21 506.48,402.18 506.64,401.58 506.79,402.3 506.95,403.21 507.1,401.61 507.26,401.62 507.41,402.16 507.57,401.92 507.72,401.33 507.88,401.8 508.03,400.95 508.19,401.16 508.34,402.54 508.5,400.71 508.65,400.85 508.81,400.86 508.96,399.82 509.12,400.4 509.27,399.61 509.43,399.22 509.58,400.01 509.74,401.39 509.89,400.95 510.05,399.93 510.2,400.99 510.36,401.6 510.51,401.27 510.67,401.02 510.82,401.35 510.98,401.21 511.13,402.33 511.29,402.03 511.44,402.07 511.6,401.96 511.75,403.39 511.91,402.16 512.06,402.91 512.22,401.09 512.37,400.98 512.53,400.96 512.68,401.6 512.84,402.5 512.99,401.61 513.15,402.42 513.3,401.94 513.46,402.97 513.61,402.82 513.77,402.19 513.92,401.42 514.08,402.61 514.23,401.23 514.39,400.97 514.54,403.54 514.7,402.81 514.85,403.43 515.01,402.98 515.16,403.27 515.32,403.04 515.47,402.47 515.62,402.49 515.78,402.89 515.93,403.05 516.09,402.98 516.24,402.97 516.4,402.71 516.55,403.05 516.71,402.75 516.86,403.84 517.02,402.58 517.17,402.01 517.33,402.95 517.48,403.9 517.64,402.25 517.79,403.26 517.95,404.84 518.1,403.19 518.26,402.7 518.41,402.83 518.57,402.33 518.72,402.7 518.88,402.99 519.03,404.24 519.19,403.73 519.34,402.96 519.5,402.67 519.65,403.68 519.81,403.44 519.96,402.79 520.12,404.21 520.27,404.23 520.43,403.21 520.58,402.93 520.74,403.36 520.89,404.44 521.05,403.07 521.2,403.87 521.36,402.69 521.51,403.14 521.67,402.93 521.82,402.7 521.98,403.4 522.13,402.6 522.29,402.35 522.44,402.85 522.6,402.3 522.75,403.46 522.91,402.55 523.06,402.93 523.22,403.68 523.37,403.14 523.53,403.41 523.68,403.43 523.84,403.05 523.99,402.47 524.15,403.29 524.3,403.03 524.46,403.97 524.61,403.04 524.77,402.42 524.92,402.62 525.08,402.82 525.23,403.42 525.39,403.69 525.54,403.16 525.7,403.9 525.85,403.84 526.01,402.55 526.16,403.66 526.32,402.05 526.47,403.96 526.63,402.86 526.78,403.81 526.94,403.01 527.09,403.74 527.25,403.1 527.4,403.21 527.56,403.39 527.71,402.82 527.87,402.23 528.02,403.48 528.18,402.6 528.33,403.08 528.49,403.15 528.64,401.83 528.8,404.41 528.95,403.53 529.11,404.2 529.26,403.32 529.42,403.27 529.57,400.88 529.73,402.93 529.88,402.08 530.04,402.37 530.19,403.4 530.35,402.86 530.5,402.16 530.66,403.04 530.81,403.02 530.97,402.85 531.12,404.03 531.27,403.63 531.43,402.95 531.58,402.83 531.74,403.69 531.89,403.34 532.05,403.22 532.2,403.24 532.36,402.74 532.51,403.09 532.67,403.06 532.82,403.99 532.98,403.78 533.13,402.97 533.29,404.1 533.44,403 533.6,403.55 533.75,403.64 533.91,402.78 534.06,403.57 534.22,403.67 534.37,403.57 534.53,403.14 534.68,401.55 534.84,404.42 534.99,403.19 535.15,403.32 535.3,402.62 535.46,403.4 535.61,404.64 535.77,402.4 535.92,403.82 536.08,403.22 536.23,403.99 536.39,403.83 536.54,403.48 536.7,402.68 536.85,402.69 537.01,403.54 537.16,402.9 537.32,403.41 537.47,403.13 537.63,403.1 537.78,402.83 537.94,403.56 538.09,403.28 538.25,403.07 538.4,403.15 538.56,403.67 538.71,402.19 538.87,403.48 539.02,402.76 539.18,403.09 539.33,402.49 539.49,404.49 539.64,402 539.8,403.34 539.95,403.94 540.11,403.14 540.26,401.89 540.42,402.92 540.57,403.94 540.73,403.49 540.88,402.44 541.04,404.05 541.19,403.33 541.35,403.4 541.5,401.95 541.66,403.4 541.81,402.46 541.97,403.63 542.12,403.7 542.28,402.64 542.43,402.87 542.59,404.25 542.74,402.86 542.9,402.86 543.05,403.59 543.21,403.11 543.36,403.08 543.52,403.52 543.67,403.58 543.83,403.63 543.98,403.4 544.14,404.02 544.29,403.27 544.45,404.12 544.6,403.2 544.76,403.3 544.91,403.85 545.07,402.75 545.22,402.12 545.38,402.48 545.53,404.05 545.69,402.51 545.84,403.13 546,403.29 546.15,403.6 546.31,403.26 546.46,402.45 546.61,402.94 546.77,403.5 546.92,403.65 547.08,403.5 547.23,402.92 547.39,402.17 547.54,403.88 547.7,403.26 547.85,403.48 548.01,403.7 548.16,403.03 548.32,402.94 548.47,404.09 548.63,403.86 548.78,402.56 548.94,403.07 549.09,402.95 549.25,403.55 549.4,403.48 549.56,402.99 549.71,403.55 549.87,403.91 550.02,403.26 550.18,402.73 550.33,403.86 550.49,402.64 550.64,402.85 550.8,403.76 550.95,403.26 551.11,403.28 551.26,402.89 551.42,402.87 551.57,404.02 551.73,404.05 551.88,402.66 552.04,403.19 552.19,403.02 552.35,403.06 552.5,402.37 552.66,403.96 552.81,402.62 552.97,403.74 553.12,402.84 553.28,402.48 553.43,404.06 553.59,403.02 553.74,403.42 553.9,403.43 554.05,403.23 554.21,403.87 554.36,403.82 554.52,402.88 554.67,402.77 554.83,403.59 554.98,404.11 555.14,401.91 555.29,402.62 555.45,403.05 555.6,403.86 555.76,403.6 555.91,403.12 556.07,403.82 556.22,402.33 556.38,403.18 556.53,403.03 556.69,403.86 556.84,403.79 557,403.72 557.15,403.1 557.31,403.41 557.46,403.43 557.62,403.08 557.77,403.13 557.93,402.4 558.08,403.37 558.24,403.85 558.39,403.27 558.55,402.41 558.7,403.58 558.86,403.23 559.01,403.47 559.17,403.02 559.32,403.11 559.48,403.73 559.63,403.39 559.79,402.71 559.94,402.62 560.1,402.72 560.25,402.76 560.41,403.45 560.56,403.47 560.72,402.72 560.87,403.94 561.03,403.29 561.18,404.33 561.34,403.48 561.49,403.67 561.65,403.96 561.8,402.92 561.95,403.68 562.11,403.47 562.26,403.41 562.42,403.68 562.57,402.44 562.73,403.54 562.88,403.14 563.04,404.01 563.19,403.53 563.35,403.45 563.5,403.44 563.66,403.6 563.81,403.18 563.97,402.36 564.12,403.33 564.28,403.34 564.43,403.48 564.59,401.79 564.74,402.33 564.9,402.94 565.05,402.85 565.21,403.67 565.36,403.35 565.52,403.14 565.67,403.19 565.83,403.75 565.98,403.71 566.14,402.96 566.29,403.08 566.45,404.47 566.6,403.2 566.76,402.52 566.91,403.63 567.07,403.12 567.22,404.1 567.38,402.78 567.53,403.9 567.69,403.98 567.84,403.44 568,401.89 568.15,403.61 568.31,403.99 568.46,402.99 568.62,403.13 568.77,402.3 568.93,403.99 569.08,404.18 569.24,403.44 569.39,403.04 569.55,403.05 569.7,402.63 569.86,404.12 570.01,403.73 570.17,403.33 570.32,402.77 570.48,402.98 570.63,403.5 570.79,403.85 570.94,402.75 571.1,402.71 571.25,401.69 571.41,403.36 571.56,402.32 571.72,403.95 571.87,403.57 572.03,403.65 572.18,403.52 572.34,403.76 572.49,403.57 572.65,403.29 572.8,403.52 572.96,402.88 573.11,403.3 573.27,403.26 573.42,402.41 573.58,403.07 573.73,403.17 573.89,403.27 574.04,403.22 574.2,402.93 574.35,403.72 574.51,402.6 574.66,402.35 574.82,402.59 574.97,403.54 575.13,404.17 575.28,403.51 575.44,403.17 575.59,402.78 575.75,403.36 575.9,403.43 576.06,402.38 576.21,403.64 576.37,402.64 576.52,402.73 576.68,404.02 576.83,403.1 576.99,403.58 577.14,403.8 577.3,404.32 577.45,404.16 577.6,403.02 577.76,403.48 577.91,403.1 578.07,403.87 578.22,403.44 578.38,403.41 578.53,404.15 578.69,404.21 578.84,403 579,403.17 579.15,403.79 579.31,403.31 579.46,402.87 579.62,402.2 579.77,403.77 579.93,402.9 580.08,402.04 580.24,403.22 580.39,402.41 580.55,404.75 580.7,402.42 580.86,403.26 581.01,404.34 581.17,402.81 581.32,402.65 581.48,402.56 581.63,402.56 581.79,403.27 581.94,403.69 582.1,403.52 582.25,403.28 582.41,403.02 582.56,403.53 582.72,403.23 582.87,402.75 583.03,403.07 583.18,401.93 583.34,402.01 583.49,403.92 583.65,403.58 583.8,404.01 583.96,403.93 584.11,402.94 584.27,403.83 584.42,403.86 584.58,403.41 584.73,402.79 584.89,403.46 585.04,403.46 585.2,402.73 585.35,402.98 585.51,402.99 585.66,402.71 585.82,403.84 585.97,403.13 586.13,403.62 586.28,402.66 586.44,402.78 586.59,403.86 586.75,402.48 586.9,403.93 587.06,402.58 587.21,403.14 587.37,403.76 587.52,403.9 587.68,403.43 587.83,403.27 587.99,403.67 588.14,402.93 588.3,404.07 588.45,403.26 588.61,403.26 588.76,404.34 588.92,403.08 589.07,403.99 589.23,404.7 589.38,403.61 589.54,403.39 589.69,402.73 589.85,403.54 590,402.4 590.16,402.42 590.31,402.62 590.47,402.49 590.62,403.05 590.78,403.58 590.93,402.88 591.09,402.7 591.24,403.12 591.4,403.4 591.55,404.17 591.71,402.86 591.86,403.05 592.02,404.01 592.17,403.2 592.33,402.84 592.48,403.32 592.64,402.8 592.79,402.82 592.94,404.11 593.1,403.43 593.25,402.98 593.41,402.73 593.56,402.45 593.72,404.38 593.87,403.31 594.03,402.86 594.18,402.56 594.34,402.3 594.49,403.82 594.65,403.5 594.8,403.89 594.96,402.81 595.11,404.05 595.27,402.6 595.42,402.75 595.58,403.01 595.73,404.55 595.89,403.69 596.04,402.86 596.2,404.12 596.35,403.44 596.51,403.36 596.66,402.79 596.82,403.14 596.97,403.15 597.13,403.56 597.28,403.31 597.44,403.39 597.59,402.89 597.75,403.41 597.9,402.71 598.06,404.29 598.21,402.61 598.37,403.4 598.52,402.64 598.68,403.24 598.83,402.79 598.99,402.41 599.14,403.59 599.3,403.21 599.45,403.34 599.61,403.1 599.76,404.15 599.92,403.28 600.07,403.29 600.23,403.58 600.38,403.2 600.54,403.96 600.69,402.16 600.85,402.68 601,401.75 601.16,403.38 601.31,403.5 601.47,402.54 601.62,403.69 601.78,402.42 601.93,402.94 602.09,402.62 602.24,402.16 602.4,402.21 602.55,400.92 602.71,401.65 602.86,402.85 603.02,401.24 603.17,402.74 603.33,401.69 603.48,402.54 603.64,402.19 603.79,400.63 603.95,401.9 604.1,401.92 604.26,401.83 604.41,401.63 604.57,400.36 604.72,402.23 604.88,402.28 605.03,401 605.19,402.57 605.34,401.74 605.5,400.73 605.65,401.58 605.81,401.98 605.96,402.2 606.12,402.42 606.27,402.27 606.43,401.86 606.58,401.21 606.74,401.49 606.89,402.59 607.05,402.78 607.2,401.95 607.36,403.64 607.51,402.85 607.67,402.86 607.82,403.42 607.98,403.42 608.13,402.66 608.29,403.95 608.44,403.55 608.59,403.45 608.75,403.07 608.9,403.98 609.06,402.58 609.21,403.44 609.37,403.45 609.52,403.54 609.68,403.75 609.83,403.96 609.99,402.77 610.14,403.33 610.3,403.53 610.45,402.92 610.61,403.9 610.76,403.16 610.92,403.51 611.07,404.03 611.23,403.12 611.38,404.39 611.54,403.2 611.69,404.06 611.85,403.35 612,402.81 612.16,403.27 612.31,403.92 612.47,403.6 612.62,403.79 612.78,404.23 612.93,404.18 613.09,403.52 613.24,403.22 613.4,404.47 613.55,403.47 613.71,403.06 613.86,403.19 614.02,403.72 614.17,402.34 614.33,403.5 614.48,402.06 614.64,401.07 614.79,403.11 614.95,400.97 615.1,400.26 615.26,399.51 615.41,399.26 615.57,397.74 615.72,397.14 615.88,394.31 616.03,392.03 616.19,390.67 616.34,388.25 616.5,384.88 616.65,381.09 616.81,377.19 616.96,373.04 617.12,368.17 617.27,364.21 617.43,359.93 617.58,350.89 617.74,343.74 617.89,339.79 618.05,332.13 618.2,324.02 618.36,316.09 618.51,309.17 618.67,301.33 618.82,295.91 618.98,288.78 619.13,282.63 619.29,278.06 619.44,271.13 619.6,267.66 619.75,263.87 619.91,263.17 620.06,259.87 620.22,262.05 620.37,260.7 620.53,266.02 620.68,266.41 620.84,267.56 620.99,273.22 621.15,277.39 621.3,285.13 621.46,287.54 621.61,295.26 621.77,302.89 621.92,309.54 622.08,316.89 622.23,323.01 622.39,331.39 622.54,340 622.7,345.5 622.85,350.46 623.01,357.14 623.16,363.63 623.32,367.92 623.47,373.08 623.63,376.97 623.78,382.6 623.93,385.47 624.09,387.26 624.24,390.6 624.4,392.46 624.55,393.23 624.71,396.62 624.86,397.64 625.02,399.43 625.17,400.47 625.33,400.89 625.48,402.53 625.64,403.46 625.79,401.64 625.95,402.92 626.1,402.48 626.26,403.3 626.41,403.46 626.57,403.32 626.72,403.4 626.88,404.51 627.03,403.3 627.19,404.49 627.34,403.92 627.5,402.74 627.65,404.04 627.81,403.25 627.96,404.29 628.12,403.81 628.27,404.11 628.43,403.93 628.58,404.58 628.74,404.62 628.89,403.99 629.05,404.95 629.2,404.6 629.36,403.86 629.51,404.49 629.67,404.63 629.82,404.75 629.98,404.13 630.13,404.39 630.29,404.13 630.44,404.31 630.6,403.3 630.75,404.44 630.91,405.2 631.06,404.18 631.22,404.24 631.37,404.17 631.53,405.05 631.68,403.69 631.84,404.27 631.99,404.28 632.15,405.05 632.3,404.04 632.46,404.31 632.61,403.61 632.77,404.49 632.92,404.89 633.08,404.22 633.23,404.74 633.39,404.08 633.54,404.82 633.7,404.34 633.85,404.38 634.01,404.27 634.16,404.5 634.32,404.62 634.47,404.22 634.63,404.44 634.78,404.03 634.94,404.19 635.09,405.14 635.25,403.92 635.4,403.04 635.56,403.49 635.71,403.17 635.87,403.06 636.02,403.39 636.18,403.67 636.33,402.09 636.49,401.6 636.64,401.54 636.8,401.23 636.95,400.79 637.11,400.6 637.26,399.85 637.42,399.46 637.57,398.61 637.73,398.87 637.88,397.95 638.04,396.35 638.19,396.27 638.35,397.06 638.5,394.41 638.66,395.45 638.81,391.57 638.97,391.74 639.12,391.1 639.28,391.48 639.43,391.26 639.58,390.07 639.74,389.48 639.89,389.75 640.05,388.81 640.2,388.26 640.36,388.29 640.51,389.6 640.67,390.62 640.82,389.22 640.98,390.07 641.13,389.67 641.29,389.29 641.44,389.87 641.6,391.54 641.75,391.62 641.91,391.95 642.06,393.9 642.22,394.51 642.37,394.86 642.53,396.28 642.68,397.38 642.84,398.3 642.99,398.46 643.15,399.59 643.3,399.2 643.46,400.61 643.61,399.88 643.77,400.59 643.92,402.71 644.08,401.62 644.23,402.92 644.39,402.21 644.54,403.01 644.7,403.58 644.85,403.43 645.01,404.26 645.16,403.98 645.32,404.1 645.47,404.47 645.63,404.33 645.78,405.05 645.94,404.42 646.09,405.26 646.25,404.51 646.4,404.62 646.56,404.56 646.71,405.13 646.87,403.64 647.02,405.04 647.18,404.9 647.33,405.29 647.49,404.41 647.64,405.21 647.8,404.62 647.95,405.42 648.11,404.92 648.26,405.21 648.42,404.69 648.57,405.2 648.73,405.44 648.88,404.92 649.04,405.59 649.19,405.5 649.35,404.83 649.5,405.89 649.66,404.85 649.81,405.32 649.97,405.53 650.12,405.09 650.28,404.94 650.43,405.43 650.59,405.28 650.74,404.91 650.9,404.94 651.05,405.26 651.21,405.55 651.36,405.62 651.52,405.5 651.67,405.02 651.83,405.07 651.98,405.18 652.14,404.78 652.29,405.43 652.45,405.47 652.6,405.48 652.76,404.63 652.91,406.12 653.07,405.26 653.22,405.21 653.38,405.36 653.53,404.54 653.69,404.98 653.84,405.13 654,405.75 654.15,405.25 654.31,405.58 654.46,405.44 654.62,405.39 654.77,405.65 654.92,405.26 655.08,404.91 655.23,405.12 655.39,405.42 655.54,406.18 655.7,405.12 655.85,405.13 656.01,405.58 656.16,405.68 656.32,405.29 656.47,405.81 656.63,405.25 656.78,405.91 656.94,405.86 657.09,405.53 657.25,406.05 657.4,405.54 657.56,405.36 657.71,406.01 657.87,405.24 658.02,405.75 658.18,405.37 658.33,405.49 658.49,405.73 658.64,405.76 658.8,406.17 658.95,405.82 659.11,405.85 659.26,405.03 659.42,405.25 659.57,406.07 659.73,405.33 659.88,405.53 660.04,405.74 660.19,405.46 660.35,405.35 660.5,405.82 660.66,405.72 660.81,405.58 660.97,405.97 661.12,405.58 661.28,405.67 661.43,405.87 661.59,405.93 661.74,405.55 661.9,405.37 662.05,405.55 662.21,405.95 662.36,405.42 662.52,405.62 662.67,405.48 662.83,405.3 662.98,405.99 663.14,405.74 663.29,405.89 663.45,405.99 663.6,405.05 663.76,405.4 663.91,406.29 664.07,405.58 664.22,405.9 664.38,405.35 664.53,405.7 664.69,405.79 664.84,405.69 665,405.62 665.15,405.73 665.31,405.82 665.46,405.8 665.62,405.59 665.77,406.12 665.93,405.76 666.08,405.81 666.24,405.93 666.39,405.54 666.55,406.19 666.7,405.9 666.86,406.06 667.01,405.62 667.17,405.94 667.32,405.78 667.48,405.68 667.63,406.31 667.79,405.67 667.94,406.05 668.1,405.9 668.25,405.86 668.41,405.58 668.56,405.6 668.72,405.29 668.87,405.79 669.03,405.99 669.18,406 669.34,405.65 669.49,405.36 669.65,405.76 669.8,406.04 669.96,405.78 670.11,405.79 670.27,405.87 670.42,406.11 670.57,406.66 670.73,406.05 670.88,405.56 671.04,405.82 671.19,406.56 671.35,405.89 671.5,406.45 671.66,405.28 671.81,405.83 671.97,406.26 672.12,405.65 672.28,406.13 672.43,405.72 672.59,405.89 672.74,406.25 672.9,405.7 673.05,406.3 673.21,405.49 673.36,405.88 673.52,406.21 673.67,406.45 673.83,405.41 673.98,405.47 674.14,406.28 674.29,405.41 674.45,405.86 674.6,405.97 674.76,405.94 674.91,405.99 675.07,405.48 675.22,405.87 675.38,406.47 675.53,405.28 675.69,405.65 675.84,406.24 676,406.02 676.15,406.19 676.31,405.91 676.46,405.8 676.62,405.85 676.77,406.1 676.93,406.16 677.08,405.67 677.24,405.96 677.39,405.25 677.55,406.17 677.7,405.69 677.86,405.91 678.01,406.16 678.17,405.52 678.32,405.9 678.48,406.2 678.63,406.03 678.79,405.63 678.94,406.3 679.1,405.53 679.25,405.73 679.41,406.02 679.56,405.54 679.72,405.42 679.87,405.76 680.03,405.89 680.18,405.4 680.34,405.5 680.49,406.22 680.65,406.01 680.8,406.01 680.96,406.07 681.11,406.4 681.27,405.68 681.42,405.93 681.58,405.92 681.73,405.54 681.89,406.12 682.04,405.97 682.2,405.88 682.35,406.09 682.51,405.99 682.66,405.73 682.82,405.96 682.97,405.57 683.13,406.19 683.28,405.91 683.44,406.39 683.59,406 683.75,406.18 683.9,405.57 684.06,405.75 684.21,405.82 684.37,405.43 684.52,405.55 684.68,405.76 684.83,406.18 684.99,406.4 685.14,405.99 685.3,406.08 685.45,406.17 685.61,406.07 685.76,406.47 685.91,405.54 686.07,406.32 686.22,406.18 686.38,405.82 686.53,406.47 686.69,405.72 686.84,405.71 687,406.08 687.15,406.31 687.31,406.13 687.46,406.54 687.62,405.59 687.77,405.98 687.93,406.21 688.08,406.26 688.24,405.83 688.39,405.56 688.55,406.37 688.7,406.17 688.86,406.52 689.01,405.8 689.17,405.96 689.32,405.34 689.48,406.04 689.63,406.13 689.79,406.22 689.94,405.76 690.1,406.49 690.25,405.79 690.41,405.94 690.56,406.16 690.72,406.28 690.87,405.71 691.03,405.47 691.18,406.15 691.34,405.86 691.49,405.51 691.65,406.2 691.8,406.09 691.96,406.38 692.11,406.07 692.27,406.05 692.42,406.15 692.58,406.24 692.73,406.49 692.89,406.42 693.04,406.31 693.2,405.84 693.35,406.18 693.51,406.28 693.66,405.84 693.82,405.87 693.97,406.25 694.13,406.22 694.28,405.85 694.44,405.93 694.59,406.28 694.75,405.97 694.9,406.05 695.06,405.72 695.21,406.29 695.37,405.79 695.52,405.92 695.68,406.34 695.83,405.74 695.99,405.79 696.14,406.43 696.3,405.48 696.45,406.38 696.61,406.32 696.76,406.15 696.92,405.83 697.07,405.89 697.23,406.08 697.38,405.66 697.54,405.94 697.69,405.66 697.85,405.25 698,406.01 698.16,406.8 698.31,406.19 698.47,406.37 698.62,406.04 698.78,406.04 698.93,406.42 699.09,406.4 699.24,406.15 699.4,406.13 699.55,406.82 699.71,405.79 699.86,406.06 700.02,406.08 700.17,405.99 700.33,406.37 700.48,406.09 700.64,405.78 700.79,405.77 700.95,405.95 701.1,406.16 701.26,406.32 701.41,405.7 701.56,405.93 701.72,406.21 701.87,406.71 702.03,406.34 702.18,406.64 702.34,405.72 702.49,406.03 702.65,406.3 702.8,406.16 702.96,405.33 703.11,405.73 703.27,406.47 703.42,406.12 703.58,406.44 703.73,406.59 703.89,406.03 704.04,405.38 704.2,405.63 704.35,406.07 704.51,406.19 704.66,406.03 704.82,405.78 704.97,406.51 705.13,406.63 705.28,405.53 705.44,406 705.59,405.61 705.75,406.01 705.9,405.65 706.06,406.26 706.21,405.94 706.37,405.63 706.52,405.78 706.68,406.22 706.83,405.82 706.99,406.28 707.14,406.5 707.3,405.93 707.45,405.67 707.61,405.83 707.76,406.45 707.92,405.83 708.07,405.88 708.23,406.22 708.38,406.82 708.54,405.78 708.69,405.82 708.85,405.94 709,406.59 709.16,406.52 709.31,405.79 709.47,405.85 709.62,405.94 709.78,406.16 709.93,405.97 710.09,406.24 710.24,406.18 710.4,406.34 710.55,406.01 710.71,406.21 710.86,405.8 711.02,405.87 711.17,406.32 711.33,405.54 711.48,406.42 711.64,405.95 711.79,405.76 711.95,405.7 712.1,406.74 712.26,405.79 712.41,405.72 712.57,405.66 712.72,406.74 712.88,406.28 713.03,406.11 713.19,406.22 713.34,405.69 713.5,406.29 713.65,405.72 713.81,405.92 713.96,406.52 714.12,406.38 714.27,406.22 714.43,406.06 714.58,405.79 714.74,406.14 714.89,405.81 715.05,406.55 715.2,406.99 715.36,406.18 715.51,405.95 715.67,406.19 715.82,406.38 715.98,405.96 716.13,405.51 716.29,406.11 716.44,406.3 716.6,406.34 716.75,405.5 716.9,406.1 717.06,405.9 717.21,405.72 717.37,405.76 717.52,406.36 717.68,405.8 717.83,405.83 717.99,405.94 718.14,405.78 718.3,406.25 718.45,406.11 718.61,406.24 718.76,405.86 718.92,406.28 719.07,405.97 719.23,406.41 719.38,406.12 719.54,406.19 719.69,406.12 719.85,406.04 720,406.14 720.16,406.15 720.31,406.7 720.47,405.75 720.62,406.27 720.78,406.16 720.93,406.33 721.09,405.79 721.24,406.35 721.4,405.93 721.55,405.73 721.71,405.59 721.86,405.73 722.02,405.9 722.17,406.44 722.33,405.7 722.48,405.73 722.64,405.83 722.79,405.84 722.95,406.06 723.1,406.24 723.26,405.76 723.41,405.7 723.57,406.39 723.72,405.81 723.88,406.01 724.03,405.82 724.19,406 724.34,405.75 724.5,405.78 724.65,405.82 724.81,406.49 724.96,405.84 725.12,406.07 725.27,406.41 725.43,405.87 725.58,406.49 725.74,405.81 725.89,405.58 726.05,406.23 726.2,405.81 726.36,405.95 726.51,405.89 726.67,406.48 726.82,405.9 726.98,406.04 727.13,405.86 727.29,406.08 727.44,405.75 727.6,406 727.75,405.88 727.91,405.67 728.06,406.02 728.22,405.78 728.37,406.01 728.53,405.92 728.68,406.23 728.84,405.85 728.99,405.71 729.15,406.1 729.3,405.84 729.46,405.95 729.61,406.4 729.77,405.97 729.92,405.69 730.08,406.22 730.23,406.6 730.39,406.01 730.54,406.26 730.7,405.52 730.85,406.09 731.01,406.08 731.16,406.26 731.32,406 731.47,406.24 731.63,406.34 731.78,406.09 731.94,406.31 732.09,405.69 732.25,406.42 732.4,406.1" fill="none" stroke="#ff2d2d" stroke-width="0.9" stroke-linejoin="round"/>
<path d="M433.9 392.5V398" stroke="#909090" stroke-width="1" fill="none"/>
<path d="M493.6 381.8V387" stroke="#909090" stroke-width="1" fill="none"/>
<path d="M620.75 257.4V261" stroke="#909090" stroke-width="1" fill="none"/>
<rect x="426.6" y="315.5" width="7.8" height="15.5" fill="#d9d9d9" fill-opacity="0.85" stroke="#b0b0b0" stroke-width="0.9"/>
<text x="428.3" y="326.95" class="tb" font-size="10.4" textLength="4.4" lengthAdjust="spacingAndGlyphs" fill="#1a1a1a">C</text>
<rect x="438.1" y="324.3" width="11.1" height="15.1" fill="#d9d9d9" fill-opacity="0.85" stroke="#b0b0b0" stroke-width="0.9"/>
<text x="440.15" y="335.35" class="tb" font-size="10.1" textLength="7.0" lengthAdjust="spacingAndGlyphs" fill="#1a1a1a">Fe</text>
<rect x="433.6" y="340.9" width="9.1" height="15.4" fill="#d9d9d9" fill-opacity="0.85" stroke="#b0b0b0" stroke-width="0.9"/>
<text x="435.65" y="352.3" class="tb" font-size="10.4" textLength="5.0" lengthAdjust="spacingAndGlyphs" fill="#1a1a1a">O</text>
<rect x="429.6" y="375.8" width="8.6" height="16.2" fill="#d9d9d9" fill-opacity="0.85" stroke="#b0b0b0" stroke-width="0.9"/>
<text x="431.4" y="387.6" class="tb" font-size="10.4" textLength="5.0" lengthAdjust="spacingAndGlyphs" fill="#1a1a1a">N</text>
<rect x="490.1" y="365.7" width="7" height="15.6" fill="#d9d9d9" fill-opacity="0.85" stroke="#b0b0b0" stroke-width="0.9"/>
<text x="491.6" y="377.2" class="tb" font-size="10.4" textLength="4.0" lengthAdjust="spacingAndGlyphs" fill="#1a1a1a">S</text>
<rect x="615.5" y="240.7" width="10.5" height="16.2" fill="#d9d9d9" fill-opacity="0.85" stroke="#b0b0b0" stroke-width="0.9"/>
<text x="617.25" y="252.3" class="tb" font-size="10.1" textLength="7.0" lengthAdjust="spacingAndGlyphs" fill="#1a1a1a">Fe</text>
<rect x="636.1" y="371" width="10.3" height="15.8" fill="#d9d9d9" fill-opacity="0.85" stroke="#b0b0b0" stroke-width="0.9"/>
<text x="637.75" y="382.4" class="tb" font-size="10.1" textLength="7.0" lengthAdjust="spacingAndGlyphs" fill="#1a1a1a">Fe</text>
<text x="420.45" y="432.1" class="t" font-size="10.2" textLength="4.1" lengthAdjust="spacingAndGlyphs" fill="#2a2a2a">0</text>
<text x="451.44" y="432.1" class="t" font-size="10.2" textLength="4.1" lengthAdjust="spacingAndGlyphs" fill="#2a2a2a">1</text>
<text x="482.43" y="432.1" class="t" font-size="10.2" textLength="4.1" lengthAdjust="spacingAndGlyphs" fill="#2a2a2a">2</text>
<text x="513.42" y="432.1" class="t" font-size="10.2" textLength="4.1" lengthAdjust="spacingAndGlyphs" fill="#2a2a2a">3</text>
<text x="544.41" y="432.1" class="t" font-size="10.2" textLength="4.1" lengthAdjust="spacingAndGlyphs" fill="#2a2a2a">4</text>
<text x="575.4" y="432.1" class="t" font-size="10.2" textLength="4.1" lengthAdjust="spacingAndGlyphs" fill="#2a2a2a">5</text>
<text x="606.39" y="432.1" class="t" font-size="10.2" textLength="4.1" lengthAdjust="spacingAndGlyphs" fill="#2a2a2a">6</text>
<text x="637.38" y="432.1" class="t" font-size="10.2" textLength="4.1" lengthAdjust="spacingAndGlyphs" fill="#2a2a2a">7</text>
<text x="668.37" y="432.1" class="t" font-size="10.2" textLength="4.1" lengthAdjust="spacingAndGlyphs" fill="#2a2a2a">8</text>
<text x="699.36" y="432.1" class="t" font-size="10.2" textLength="4.1" lengthAdjust="spacingAndGlyphs" fill="#2a2a2a">9</text>
<text x="728.4" y="432.1" class="t" font-size="10.2" textLength="8.0" lengthAdjust="spacingAndGlyphs" fill="#2a2a2a">10</text>
<text x="406.3" y="411.3" class="t" font-size="10.4" textLength="3.8" lengthAdjust="spacingAndGlyphs" fill="#2a2a2a">0</text>
<text x="398.9" y="309.7" class="t" font-size="10.4" textLength="11.2" lengthAdjust="spacingAndGlyphs" fill="#2a2a2a">500</text>
<text x="558" y="445.6" class="t" font-size="9.2" textLength="38" lengthAdjust="spacingAndGlyphs" fill="#2a2a2a">Energy [keV]</text>
<text transform="translate(382.4,347.2) rotate(-90)" x="0" y="0" class="t2" font-size="8" textLength="74.6" lengthAdjust="spacingAndGlyphs" fill="#2a2a2a">Intensity [Counts]</text>
<text x="536.9" y="249.5" class="ttl" fill="#000">DODB</text></g>
</svg></body></html>
